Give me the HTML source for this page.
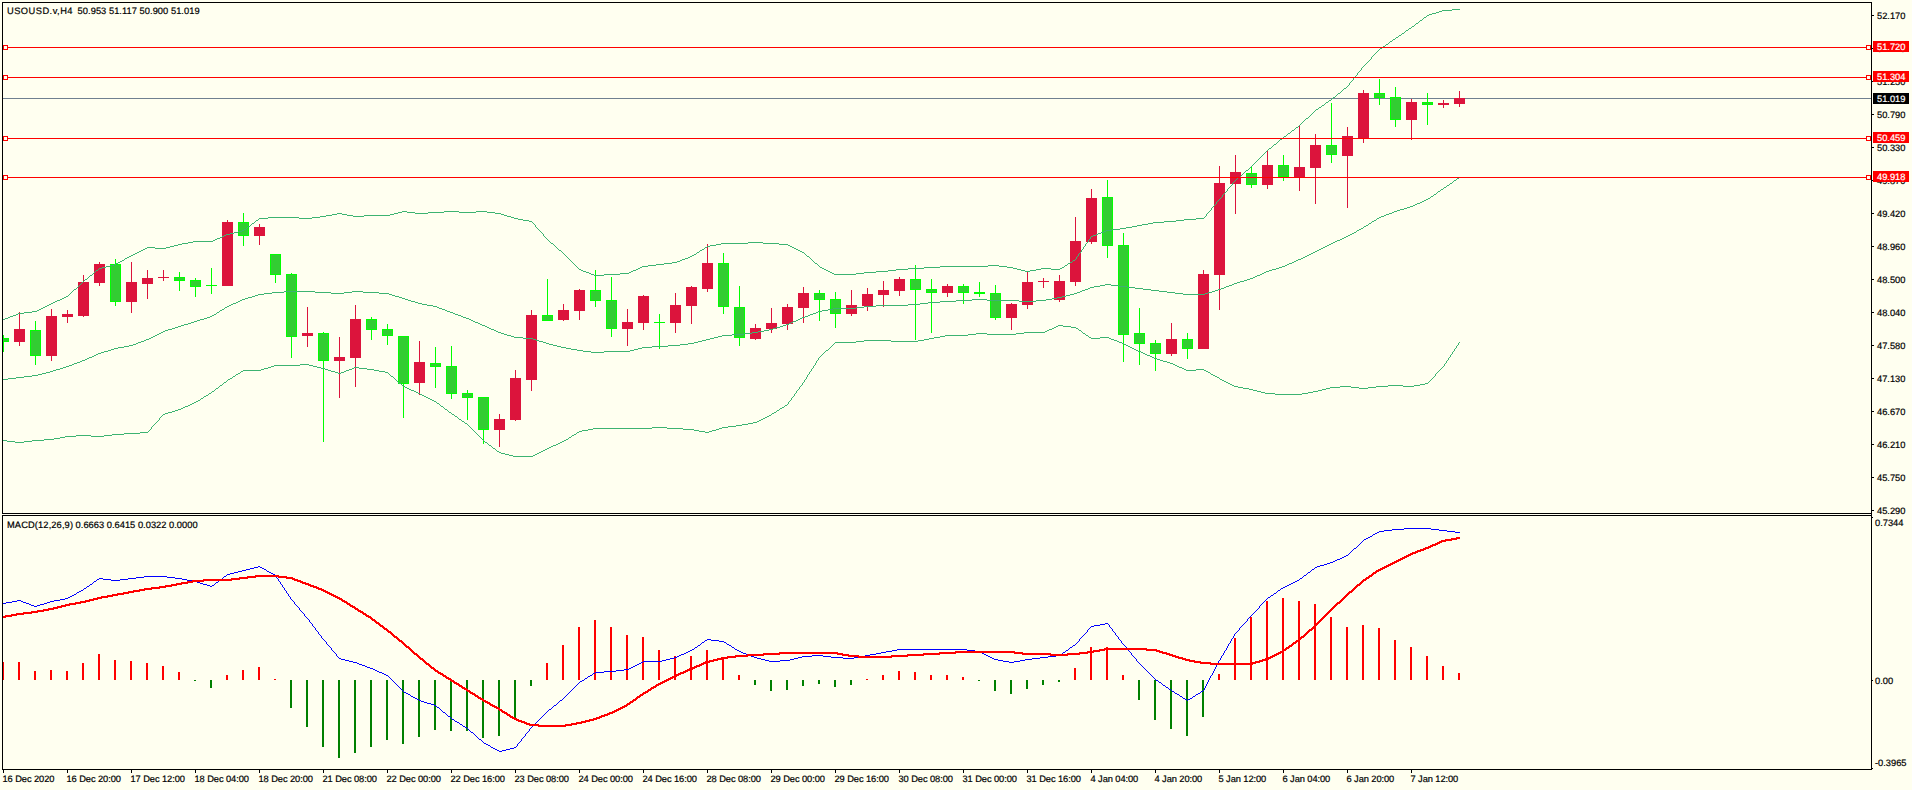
<!DOCTYPE html>
<html><head><meta charset="utf-8"><title>USOUSD.v,H4</title>
<style>html,body{margin:0;padding:0;background:#FFFFF0;overflow:hidden}svg{display:block}text{font-family:"Liberation Sans",sans-serif}</style>
</head><body>
<svg width="1912" height="790" viewBox="0 0 1912 790" shape-rendering="crispEdges">
<defs><clipPath id="cm"><rect x="3" y="3" width="1868" height="510"/></clipPath><clipPath id="cd"><rect x="3" y="516" width="1868" height="253"/></clipPath></defs>
<rect x="0" y="0" width="1912" height="790" fill="#FFFFF0"/>
<rect x="3" y="98" width="1868" height="1" fill="#708090"/>
<g clip-path="url(#cm)">
<rect x="3" y="335" width="1" height="17" fill="#00FF00"/>
<rect x="-2" y="338" width="11" height="4" fill="#00FF00"/>
<rect x="-1" y="339" width="9" height="2" fill="#32CD32"/>
<rect x="19" y="312" width="1" height="34" fill="#DC143C"/>
<rect x="14" y="329" width="11" height="13" fill="#DC143C"/>
<rect x="35" y="321" width="1" height="44" fill="#00FF00"/>
<rect x="30" y="330" width="11" height="26" fill="#00FF00"/>
<rect x="31" y="331" width="9" height="24" fill="#32CD32"/>
<rect x="51" y="309" width="1" height="52" fill="#DC143C"/>
<rect x="46" y="316" width="11" height="40" fill="#DC143C"/>
<rect x="67" y="310" width="1" height="13" fill="#DC143C"/>
<rect x="62" y="314" width="11" height="3" fill="#DC143C"/>
<rect x="83" y="275" width="1" height="42" fill="#DC143C"/>
<rect x="78" y="282" width="11" height="34" fill="#DC143C"/>
<rect x="99" y="262" width="1" height="24" fill="#DC143C"/>
<rect x="94" y="264" width="11" height="19" fill="#DC143C"/>
<rect x="115" y="259" width="1" height="47" fill="#00FF00"/>
<rect x="110" y="264" width="11" height="38" fill="#00FF00"/>
<rect x="111" y="265" width="9" height="36" fill="#32CD32"/>
<rect x="131" y="262" width="1" height="51" fill="#DC143C"/>
<rect x="126" y="282" width="11" height="20" fill="#DC143C"/>
<rect x="147" y="270" width="1" height="29" fill="#DC143C"/>
<rect x="142" y="278" width="11" height="6" fill="#DC143C"/>
<rect x="163" y="270" width="1" height="11" fill="#DC143C"/>
<rect x="158" y="277" width="11" height="1" fill="#DC143C"/>
<rect x="179" y="272" width="1" height="19" fill="#00FF00"/>
<rect x="174" y="277" width="11" height="4" fill="#00FF00"/>
<rect x="175" y="278" width="9" height="2" fill="#32CD32"/>
<rect x="195" y="278" width="1" height="19" fill="#00FF00"/>
<rect x="190" y="280" width="11" height="7" fill="#00FF00"/>
<rect x="191" y="281" width="9" height="5" fill="#32CD32"/>
<rect x="211" y="268" width="1" height="26" fill="#00FF00"/>
<rect x="206" y="285" width="11" height="1" fill="#00FF00"/>
<rect x="227" y="220" width="1" height="66" fill="#DC143C"/>
<rect x="222" y="222" width="11" height="64" fill="#DC143C"/>
<rect x="243" y="213" width="1" height="33" fill="#00FF00"/>
<rect x="238" y="222" width="11" height="14" fill="#00FF00"/>
<rect x="239" y="223" width="9" height="12" fill="#32CD32"/>
<rect x="259" y="224" width="1" height="21" fill="#DC143C"/>
<rect x="254" y="227" width="11" height="9" fill="#DC143C"/>
<rect x="275" y="254" width="1" height="29" fill="#00FF00"/>
<rect x="270" y="254" width="11" height="21" fill="#00FF00"/>
<rect x="271" y="255" width="9" height="19" fill="#32CD32"/>
<rect x="291" y="273" width="1" height="85" fill="#00FF00"/>
<rect x="286" y="274" width="11" height="63" fill="#00FF00"/>
<rect x="287" y="275" width="9" height="61" fill="#32CD32"/>
<rect x="307" y="307" width="1" height="40" fill="#DC143C"/>
<rect x="302" y="333" width="11" height="3" fill="#DC143C"/>
<rect x="323" y="332" width="1" height="110" fill="#00FF00"/>
<rect x="318" y="333" width="11" height="28" fill="#00FF00"/>
<rect x="319" y="334" width="9" height="26" fill="#32CD32"/>
<rect x="339" y="337" width="1" height="61" fill="#DC143C"/>
<rect x="334" y="357" width="11" height="4" fill="#DC143C"/>
<rect x="355" y="305" width="1" height="82" fill="#DC143C"/>
<rect x="350" y="319" width="11" height="39" fill="#DC143C"/>
<rect x="371" y="317" width="1" height="23" fill="#00FF00"/>
<rect x="366" y="319" width="11" height="11" fill="#00FF00"/>
<rect x="367" y="320" width="9" height="9" fill="#32CD32"/>
<rect x="387" y="324" width="1" height="21" fill="#00FF00"/>
<rect x="382" y="329" width="11" height="7" fill="#00FF00"/>
<rect x="383" y="330" width="9" height="5" fill="#32CD32"/>
<rect x="403" y="336" width="1" height="82" fill="#00FF00"/>
<rect x="398" y="336" width="11" height="48" fill="#00FF00"/>
<rect x="399" y="337" width="9" height="46" fill="#32CD32"/>
<rect x="419" y="341" width="1" height="54" fill="#DC143C"/>
<rect x="414" y="362" width="11" height="21" fill="#DC143C"/>
<rect x="435" y="347" width="1" height="41" fill="#00FF00"/>
<rect x="430" y="363" width="11" height="4" fill="#00FF00"/>
<rect x="431" y="364" width="9" height="2" fill="#32CD32"/>
<rect x="451" y="346" width="1" height="53" fill="#00FF00"/>
<rect x="446" y="366" width="11" height="28" fill="#00FF00"/>
<rect x="447" y="367" width="9" height="26" fill="#32CD32"/>
<rect x="467" y="390" width="1" height="30" fill="#00FF00"/>
<rect x="462" y="393" width="11" height="5" fill="#00FF00"/>
<rect x="463" y="394" width="9" height="3" fill="#32CD32"/>
<rect x="483" y="397" width="1" height="47" fill="#00FF00"/>
<rect x="478" y="397" width="11" height="33" fill="#00FF00"/>
<rect x="479" y="398" width="9" height="31" fill="#32CD32"/>
<rect x="499" y="414" width="1" height="33" fill="#DC143C"/>
<rect x="494" y="419" width="11" height="11" fill="#DC143C"/>
<rect x="515" y="370" width="1" height="51" fill="#DC143C"/>
<rect x="510" y="378" width="11" height="42" fill="#DC143C"/>
<rect x="531" y="310" width="1" height="81" fill="#DC143C"/>
<rect x="526" y="315" width="11" height="65" fill="#DC143C"/>
<rect x="547" y="279" width="1" height="42" fill="#00FF00"/>
<rect x="542" y="315" width="11" height="6" fill="#00FF00"/>
<rect x="543" y="316" width="9" height="4" fill="#32CD32"/>
<rect x="563" y="304" width="1" height="17" fill="#DC143C"/>
<rect x="558" y="310" width="11" height="10" fill="#DC143C"/>
<rect x="579" y="289" width="1" height="31" fill="#DC143C"/>
<rect x="574" y="290" width="11" height="21" fill="#DC143C"/>
<rect x="595" y="270" width="1" height="37" fill="#00FF00"/>
<rect x="590" y="290" width="11" height="11" fill="#00FF00"/>
<rect x="591" y="291" width="9" height="9" fill="#32CD32"/>
<rect x="611" y="277" width="1" height="60" fill="#00FF00"/>
<rect x="606" y="300" width="11" height="29" fill="#00FF00"/>
<rect x="607" y="301" width="9" height="27" fill="#32CD32"/>
<rect x="627" y="309" width="1" height="37" fill="#DC143C"/>
<rect x="622" y="322" width="11" height="7" fill="#DC143C"/>
<rect x="643" y="295" width="1" height="35" fill="#DC143C"/>
<rect x="638" y="296" width="11" height="27" fill="#DC143C"/>
<rect x="659" y="314" width="1" height="35" fill="#00FF00"/>
<rect x="654" y="322" width="11" height="1" fill="#00FF00"/>
<rect x="675" y="293" width="1" height="40" fill="#DC143C"/>
<rect x="670" y="305" width="11" height="18" fill="#DC143C"/>
<rect x="691" y="286" width="1" height="38" fill="#DC143C"/>
<rect x="686" y="287" width="11" height="19" fill="#DC143C"/>
<rect x="707" y="244" width="1" height="48" fill="#DC143C"/>
<rect x="702" y="263" width="11" height="26" fill="#DC143C"/>
<rect x="723" y="253" width="1" height="61" fill="#00FF00"/>
<rect x="718" y="263" width="11" height="44" fill="#00FF00"/>
<rect x="719" y="264" width="9" height="42" fill="#32CD32"/>
<rect x="739" y="286" width="1" height="60" fill="#00FF00"/>
<rect x="734" y="307" width="11" height="31" fill="#00FF00"/>
<rect x="735" y="308" width="9" height="29" fill="#32CD32"/>
<rect x="755" y="324" width="1" height="16" fill="#DC143C"/>
<rect x="750" y="328" width="11" height="11" fill="#DC143C"/>
<rect x="771" y="308" width="1" height="25" fill="#DC143C"/>
<rect x="766" y="323" width="11" height="6" fill="#DC143C"/>
<rect x="787" y="304" width="1" height="26" fill="#DC143C"/>
<rect x="782" y="307" width="11" height="17" fill="#DC143C"/>
<rect x="803" y="287" width="1" height="36" fill="#DC143C"/>
<rect x="798" y="293" width="11" height="15" fill="#DC143C"/>
<rect x="819" y="290" width="1" height="31" fill="#00FF00"/>
<rect x="814" y="293" width="11" height="7" fill="#00FF00"/>
<rect x="815" y="294" width="9" height="5" fill="#32CD32"/>
<rect x="835" y="292" width="1" height="36" fill="#00FF00"/>
<rect x="830" y="299" width="11" height="15" fill="#00FF00"/>
<rect x="831" y="300" width="9" height="13" fill="#32CD32"/>
<rect x="851" y="290" width="1" height="26" fill="#DC143C"/>
<rect x="846" y="305" width="11" height="9" fill="#DC143C"/>
<rect x="867" y="288" width="1" height="23" fill="#DC143C"/>
<rect x="862" y="294" width="11" height="12" fill="#DC143C"/>
<rect x="883" y="281" width="1" height="26" fill="#DC143C"/>
<rect x="878" y="290" width="11" height="5" fill="#DC143C"/>
<rect x="899" y="277" width="1" height="19" fill="#DC143C"/>
<rect x="894" y="279" width="11" height="12" fill="#DC143C"/>
<rect x="915" y="265" width="1" height="75" fill="#00FF00"/>
<rect x="910" y="279" width="11" height="11" fill="#00FF00"/>
<rect x="911" y="280" width="9" height="9" fill="#32CD32"/>
<rect x="931" y="279" width="1" height="54" fill="#00FF00"/>
<rect x="926" y="289" width="11" height="4" fill="#00FF00"/>
<rect x="927" y="290" width="9" height="2" fill="#32CD32"/>
<rect x="947" y="284" width="1" height="13" fill="#DC143C"/>
<rect x="942" y="286" width="11" height="7" fill="#DC143C"/>
<rect x="963" y="284" width="1" height="20" fill="#00FF00"/>
<rect x="958" y="286" width="11" height="7" fill="#00FF00"/>
<rect x="959" y="287" width="9" height="5" fill="#32CD32"/>
<rect x="979" y="282" width="1" height="15" fill="#00FF00"/>
<rect x="974" y="292" width="11" height="2" fill="#00FF00"/>
<rect x="995" y="285" width="1" height="35" fill="#00FF00"/>
<rect x="990" y="293" width="11" height="25" fill="#00FF00"/>
<rect x="991" y="294" width="9" height="23" fill="#32CD32"/>
<rect x="1011" y="303" width="1" height="27" fill="#DC143C"/>
<rect x="1006" y="304" width="11" height="14" fill="#DC143C"/>
<rect x="1027" y="271" width="1" height="38" fill="#DC143C"/>
<rect x="1022" y="282" width="11" height="23" fill="#DC143C"/>
<rect x="1043" y="278" width="1" height="10" fill="#DC143C"/>
<rect x="1038" y="281" width="11" height="1" fill="#DC143C"/>
<rect x="1059" y="275" width="1" height="27" fill="#DC143C"/>
<rect x="1054" y="281" width="11" height="19" fill="#DC143C"/>
<rect x="1075" y="217" width="1" height="69" fill="#DC143C"/>
<rect x="1070" y="241" width="11" height="41" fill="#DC143C"/>
<rect x="1091" y="189" width="1" height="55" fill="#DC143C"/>
<rect x="1086" y="198" width="11" height="44" fill="#DC143C"/>
<rect x="1107" y="180" width="1" height="78" fill="#00FF00"/>
<rect x="1102" y="197" width="11" height="49" fill="#00FF00"/>
<rect x="1103" y="198" width="9" height="47" fill="#32CD32"/>
<rect x="1123" y="233" width="1" height="129" fill="#00FF00"/>
<rect x="1118" y="245" width="11" height="90" fill="#00FF00"/>
<rect x="1119" y="246" width="9" height="88" fill="#32CD32"/>
<rect x="1139" y="308" width="1" height="57" fill="#00FF00"/>
<rect x="1134" y="333" width="11" height="11" fill="#00FF00"/>
<rect x="1135" y="334" width="9" height="9" fill="#32CD32"/>
<rect x="1155" y="340" width="1" height="31" fill="#00FF00"/>
<rect x="1150" y="343" width="11" height="11" fill="#00FF00"/>
<rect x="1151" y="344" width="9" height="9" fill="#32CD32"/>
<rect x="1171" y="323" width="1" height="33" fill="#DC143C"/>
<rect x="1166" y="339" width="11" height="15" fill="#DC143C"/>
<rect x="1187" y="333" width="1" height="26" fill="#00FF00"/>
<rect x="1182" y="339" width="11" height="10" fill="#00FF00"/>
<rect x="1183" y="340" width="9" height="8" fill="#32CD32"/>
<rect x="1203" y="270" width="1" height="79" fill="#DC143C"/>
<rect x="1198" y="274" width="11" height="75" fill="#DC143C"/>
<rect x="1219" y="166" width="1" height="144" fill="#DC143C"/>
<rect x="1214" y="183" width="11" height="92" fill="#DC143C"/>
<rect x="1235" y="155" width="1" height="59" fill="#DC143C"/>
<rect x="1230" y="172" width="11" height="12" fill="#DC143C"/>
<rect x="1251" y="167" width="1" height="21" fill="#00FF00"/>
<rect x="1246" y="173" width="11" height="12" fill="#00FF00"/>
<rect x="1247" y="174" width="9" height="10" fill="#32CD32"/>
<rect x="1267" y="150" width="1" height="39" fill="#DC143C"/>
<rect x="1262" y="165" width="11" height="20" fill="#DC143C"/>
<rect x="1283" y="155" width="1" height="26" fill="#00FF00"/>
<rect x="1278" y="165" width="11" height="12" fill="#00FF00"/>
<rect x="1279" y="166" width="9" height="10" fill="#32CD32"/>
<rect x="1299" y="125" width="1" height="66" fill="#DC143C"/>
<rect x="1294" y="167" width="11" height="11" fill="#DC143C"/>
<rect x="1315" y="134" width="1" height="70" fill="#DC143C"/>
<rect x="1310" y="145" width="11" height="23" fill="#DC143C"/>
<rect x="1331" y="103" width="1" height="60" fill="#00FF00"/>
<rect x="1326" y="145" width="11" height="10" fill="#00FF00"/>
<rect x="1327" y="146" width="9" height="8" fill="#32CD32"/>
<rect x="1347" y="127" width="1" height="81" fill="#DC143C"/>
<rect x="1342" y="136" width="11" height="20" fill="#DC143C"/>
<rect x="1363" y="90" width="1" height="53" fill="#DC143C"/>
<rect x="1358" y="93" width="11" height="46" fill="#DC143C"/>
<rect x="1379" y="79" width="1" height="26" fill="#00FF00"/>
<rect x="1374" y="93" width="11" height="5" fill="#00FF00"/>
<rect x="1375" y="94" width="9" height="3" fill="#32CD32"/>
<rect x="1395" y="87" width="1" height="40" fill="#00FF00"/>
<rect x="1390" y="97" width="11" height="23" fill="#00FF00"/>
<rect x="1391" y="98" width="9" height="21" fill="#32CD32"/>
<rect x="1411" y="99" width="1" height="41" fill="#DC143C"/>
<rect x="1406" y="102" width="11" height="18" fill="#DC143C"/>
<rect x="1427" y="93" width="1" height="32" fill="#00FF00"/>
<rect x="1422" y="102" width="11" height="3" fill="#00FF00"/>
<rect x="1423" y="103" width="9" height="1" fill="#32CD32"/>
<rect x="1443" y="100" width="1" height="8" fill="#DC143C"/>
<rect x="1438" y="103" width="11" height="2" fill="#DC143C"/>
<rect x="1459" y="91" width="1" height="16" fill="#DC143C"/>
<rect x="1454" y="98" width="11" height="6" fill="#DC143C"/>
</g>
<path clip-path="url(#cm)" fill="#3CB371" d="M3 319h2v1h-2zM5 318h3v1h-3zM8 317h2v1h-2zM10 316h3v1h-3zM13 315h3v1h-3zM16 314h2v1h-2zM18 313h6v1h-6zM24 312h8v1h-8zM32 311h5v1h-5zM37 310h2v1h-2zM39 309h2v1h-2zM41 308h2v1h-2zM43 307h2v1h-2zM45 306h2v1h-2zM47 305h2v1h-2zM49 304h2v1h-2zM51 303h2v1h-2zM53 302h2v1h-2zM55 301h2v1h-2zM57 300h3v1h-3zM60 299h2v1h-2zM62 298h2v1h-2zM64 297h2v1h-2zM66 296h2v1h-2zM74 289h2v1h-2zM85 279h2v1h-2zM90 275h2v1h-2zM96 270h2v1h-2zM99 268h3v1h-3zM102 267h4v1h-4zM106 266h4v1h-4zM110 265h4v1h-4zM114 264h2v1h-2zM116 263h2v1h-2zM118 262h2v1h-2zM120 261h2v1h-2zM122 260h2v1h-2zM125 258h2v1h-2zM127 257h2v1h-2zM129 256h2v1h-2zM131 255h2v1h-2zM133 254h2v1h-2zM135 253h2v1h-2zM137 252h2v1h-2zM139 251h2v1h-2zM141 250h2v1h-2zM143 249h2v1h-2zM145 248h2v1h-2zM147 247h8v1h-8zM155 248h11v1h-11zM166 247h4v1h-4zM170 246h4v1h-4zM174 245h4v1h-4zM178 244h4v1h-4zM182 243h6v1h-6zM188 242h5v1h-5zM193 241h20v1h-20zM213 240h2v1h-2zM215 239h2v1h-2zM217 238h3v1h-3zM220 237h2v1h-2zM222 236h2v1h-2zM224 235h2v1h-2zM226 234h4v1h-4zM230 233h4v1h-4zM234 232h4v1h-4zM238 231h4v1h-4zM242 230h2v1h-2zM244 229h2v1h-2zM248 226h2v1h-2zM252 223h2v1h-2zM256 220h2v1h-2zM259 218h9v1h-9zM268 217h31v1h-31zM299 218h13v1h-13zM312 217h8v1h-8zM320 216h6v1h-6zM326 215h6v1h-6zM332 214h5v1h-5zM337 213h5v1h-5zM342 214h5v1h-5zM347 215h6v1h-6zM353 216h11v1h-11zM364 215h26v1h-26zM390 214h4v1h-4zM394 213h4v1h-4zM398 212h4v1h-4zM402 211h5v1h-5zM407 212h8v1h-8zM415 213h13v1h-13zM428 212h16v1h-16zM444 211h15v1h-15zM459 212h17v1h-17zM476 211h11v1h-11zM487 212h8v1h-8zM495 213h6v1h-6zM501 214h3v1h-3zM504 215h3v1h-3zM507 216h4v1h-4zM511 217h3v1h-3zM514 218h4v1h-4zM518 219h5v1h-5zM523 220h6v1h-6zM529 221h3v1h-3zM551 243h2v1h-2zM559 250h2v1h-2zM579 269h2v1h-2zM581 270h2v1h-2zM583 271h3v1h-3zM586 272h3v1h-3zM589 273h2v1h-2zM591 274h3v1h-3zM594 275h10v1h-10zM604 274h16v1h-16zM620 273h9v1h-9zM629 272h2v1h-2zM631 271h2v1h-2zM633 270h3v1h-3zM636 269h2v1h-2zM638 268h2v1h-2zM640 267h2v1h-2zM642 266h6v1h-6zM648 265h8v1h-8zM656 264h8v1h-8zM664 263h8v1h-8zM672 262h5v1h-5zM677 261h3v1h-3zM680 260h2v1h-2zM682 259h3v1h-3zM685 258h3v1h-3zM688 257h2v1h-2zM690 256h2v1h-2zM692 255h2v1h-2zM694 254h2v1h-2zM697 252h2v1h-2zM700 250h2v1h-2zM702 249h2v1h-2zM705 247h2v1h-2zM707 246h3v1h-3zM710 245h6v1h-6zM716 244h5v1h-5zM721 243h27v1h-27zM748 242h15v1h-15zM763 243h16v1h-16zM779 244h9v1h-9zM788 245h2v1h-2zM790 246h2v1h-2zM792 247h2v1h-2zM794 248h2v1h-2zM796 249h2v1h-2zM798 250h2v1h-2zM800 251h2v1h-2zM802 252h2v1h-2zM807 256h2v1h-2zM815 263h2v1h-2zM820 267h2v1h-2zM822 268h2v1h-2zM824 269h2v1h-2zM826 270h2v1h-2zM828 271h2v1h-2zM830 272h2v1h-2zM832 273h2v1h-2zM834 274h22v1h-22zM856 273h8v1h-8zM864 272h12v1h-12zM876 271h12v1h-12zM888 270h8v1h-8zM896 269h12v1h-12zM908 268h16v1h-16zM924 267h16v1h-16zM940 266h48v1h-48zM988 265h11v1h-11zM999 266h8v1h-8zM1007 267h6v1h-6zM1013 268h4v1h-4zM1017 269h4v1h-4zM1021 270h4v1h-4zM1025 271h5v1h-5zM1030 270h6v1h-6zM1036 269h5v1h-5zM1041 268h10v1h-10zM1051 269h9v1h-9zM1060 268h2v1h-2zM1062 267h2v1h-2zM1065 265h2v1h-2zM1068 263h2v1h-2zM1070 262h2v1h-2zM1073 260h2v1h-2zM1091 236h2v1h-2zM1093 235h3v1h-3zM1096 234h2v1h-2zM1098 233h3v1h-3zM1101 232h3v1h-3zM1104 231h2v1h-2zM1106 230h6v1h-6zM1112 229h8v1h-8zM1120 228h6v1h-6zM1126 227h6v1h-6zM1132 226h5v1h-5zM1137 225h5v1h-5zM1142 224h6v1h-6zM1148 223h5v1h-5zM1153 222h11v1h-11zM1164 221h12v1h-12zM1176 220h8v1h-8zM1184 219h12v1h-12zM1196 218h8v1h-8zM1238 177h2v1h-2zM1246 170h2v1h-2zM1269 148h2v1h-2zM1274 144h2v1h-2zM1280 139h2v1h-2zM1284 136h2v1h-2zM1288 133h2v1h-2zM1292 130h2v1h-2zM1296 127h2v1h-2zM1306 118h2v1h-2zM1316 109h2v1h-2zM1319 107h2v1h-2zM1322 105h2v1h-2zM1326 102h2v1h-2zM1329 100h2v1h-2zM1333 97h2v1h-2zM1338 93h2v1h-2zM1344 88h2v1h-2zM1380 48h2v1h-2zM1383 46h2v1h-2zM1386 44h2v1h-2zM1390 41h2v1h-2zM1393 39h2v1h-2zM1396 37h2v1h-2zM1399 35h2v1h-2zM1402 33h2v1h-2zM1406 30h2v1h-2zM1409 28h2v1h-2zM1412 26h2v1h-2zM1416 23h2v1h-2zM1420 20h2v1h-2zM1424 17h2v1h-2zM1427 15h2v1h-2zM1429 14h3v1h-3zM1432 13h4v1h-4zM1436 12h3v1h-3zM1439 11h3v1h-3zM1442 10h10v1h-10zM1452 9h8v1h-8zM68 295h1v1h-1zM69 294h1v1h-1zM70 293h1v1h-1zM71 292h1v1h-1zM72 291h1v1h-1zM73 290h1v1h-1zM76 288h1v1h-1zM77 287h1v1h-1zM78 286h1v1h-1zM79 285h1v1h-1zM80 284h1v1h-1zM81 283h1v1h-1zM82 282h1v1h-1zM83 281h1v1h-1zM84 280h1v1h-1zM87 278h1v1h-1zM88 277h1v1h-1zM89 276h1v1h-1zM92 274h1v1h-1zM93 273h1v1h-1zM94 272h1v1h-1zM95 271h1v1h-1zM98 269h1v1h-1zM124 259h1v1h-1zM246 228h1v1h-1zM247 227h1v1h-1zM250 225h1v1h-1zM251 224h1v1h-1zM254 222h1v1h-1zM255 221h1v1h-1zM258 219h1v1h-1zM532 222h1v1h-1zM533 223h1v1h-1zM534 224h1v1h-1zM535 225h1v2h-1zM536 227h1v1h-1zM537 228h1v1h-1zM538 229h1v1h-1zM539 230h1v1h-1zM540 231h1v1h-1zM541 232h1v1h-1zM542 233h1v1h-1zM543 234h1v2h-1zM544 236h1v1h-1zM545 237h1v1h-1zM546 238h1v1h-1zM547 239h1v1h-1zM548 240h1v1h-1zM549 241h1v1h-1zM550 242h1v1h-1zM553 244h1v1h-1zM554 245h1v1h-1zM555 246h1v1h-1zM556 247h1v1h-1zM557 248h1v1h-1zM558 249h1v1h-1zM561 251h1v1h-1zM562 252h1v1h-1zM563 253h1v1h-1zM564 254h1v1h-1zM565 255h1v1h-1zM566 256h1v1h-1zM567 257h1v1h-1zM568 258h1v1h-1zM569 259h1v1h-1zM570 260h1v1h-1zM571 261h1v1h-1zM572 262h1v1h-1zM573 263h1v1h-1zM574 264h1v1h-1zM575 265h1v1h-1zM576 266h1v1h-1zM577 267h1v1h-1zM578 268h1v1h-1zM696 253h1v1h-1zM699 251h1v1h-1zM704 248h1v1h-1zM804 253h1v1h-1zM805 254h1v1h-1zM806 255h1v1h-1zM809 257h1v1h-1zM810 258h1v1h-1zM811 259h1v1h-1zM812 260h1v1h-1zM813 261h1v1h-1zM814 262h1v1h-1zM817 264h1v1h-1zM818 265h1v1h-1zM819 266h1v1h-1zM1064 266h1v1h-1zM1067 264h1v1h-1zM1072 261h1v1h-1zM1075 259h1v1h-1zM1076 257h1v2h-1zM1077 256h1v1h-1zM1078 254h1v2h-1zM1079 253h1v1h-1zM1080 252h1v1h-1zM1081 250h1v2h-1zM1082 249h1v1h-1zM1083 247h1v2h-1zM1084 246h1v1h-1zM1085 244h1v2h-1zM1086 243h1v1h-1zM1087 242h1v1h-1zM1088 240h1v2h-1zM1089 239h1v1h-1zM1090 237h1v2h-1zM1204 217h1v1h-1zM1205 216h1v1h-1zM1206 214h1v2h-1zM1207 213h1v1h-1zM1208 212h1v1h-1zM1209 211h1v1h-1zM1210 210h1v1h-1zM1211 208h1v2h-1zM1212 207h1v1h-1zM1213 206h1v1h-1zM1214 205h1v1h-1zM1215 204h1v1h-1zM1216 202h1v2h-1zM1217 201h1v1h-1zM1218 200h1v1h-1zM1219 199h1v1h-1zM1220 198h1v1h-1zM1221 197h1v1h-1zM1222 195h1v2h-1zM1223 194h1v1h-1zM1224 193h1v1h-1zM1225 192h1v1h-1zM1226 191h1v1h-1zM1227 189h1v2h-1zM1228 188h1v1h-1zM1229 187h1v1h-1zM1230 186h1v1h-1zM1231 185h1v1h-1zM1232 183h1v2h-1zM1233 182h1v1h-1zM1234 181h1v1h-1zM1235 180h1v1h-1zM1236 179h1v1h-1zM1237 178h1v1h-1zM1240 176h1v1h-1zM1241 175h1v1h-1zM1242 174h1v1h-1zM1243 173h1v1h-1zM1244 172h1v1h-1zM1245 171h1v1h-1zM1248 169h1v1h-1zM1249 168h1v1h-1zM1250 167h1v1h-1zM1251 166h1v1h-1zM1252 165h1v1h-1zM1253 164h1v1h-1zM1254 163h1v1h-1zM1255 162h1v1h-1zM1256 161h1v1h-1zM1257 160h1v1h-1zM1258 159h1v1h-1zM1259 158h1v1h-1zM1260 157h1v1h-1zM1261 156h1v1h-1zM1262 155h1v1h-1zM1263 154h1v1h-1zM1264 153h1v1h-1zM1265 152h1v1h-1zM1266 151h1v1h-1zM1267 150h1v1h-1zM1268 149h1v1h-1zM1271 147h1v1h-1zM1272 146h1v1h-1zM1273 145h1v1h-1zM1276 143h1v1h-1zM1277 142h1v1h-1zM1278 141h1v1h-1zM1279 140h1v1h-1zM1282 138h1v1h-1zM1283 137h1v1h-1zM1286 135h1v1h-1zM1287 134h1v1h-1zM1290 132h1v1h-1zM1291 131h1v1h-1zM1294 129h1v1h-1zM1295 128h1v1h-1zM1298 126h1v1h-1zM1299 125h1v1h-1zM1300 124h1v1h-1zM1301 123h1v1h-1zM1302 122h1v1h-1zM1303 121h1v1h-1zM1304 120h1v1h-1zM1305 119h1v1h-1zM1308 117h1v1h-1zM1309 116h1v1h-1zM1310 115h1v1h-1zM1311 114h1v1h-1zM1312 113h1v1h-1zM1313 112h1v1h-1zM1314 111h1v1h-1zM1315 110h1v1h-1zM1318 108h1v1h-1zM1321 106h1v1h-1zM1324 104h1v1h-1zM1325 103h1v1h-1zM1328 101h1v1h-1zM1331 99h1v1h-1zM1332 98h1v1h-1zM1335 96h1v1h-1zM1336 95h1v1h-1zM1337 94h1v1h-1zM1340 92h1v1h-1zM1341 91h1v1h-1zM1342 90h1v1h-1zM1343 89h1v1h-1zM1346 87h1v1h-1zM1347 86h1v1h-1zM1348 85h1v1h-1zM1349 83h1v2h-1zM1350 82h1v1h-1zM1351 81h1v1h-1zM1352 80h1v1h-1zM1353 78h1v2h-1zM1354 77h1v1h-1zM1355 76h1v1h-1zM1356 75h1v1h-1zM1357 73h1v2h-1zM1358 72h1v1h-1zM1359 71h1v1h-1zM1360 70h1v1h-1zM1361 68h1v2h-1zM1362 67h1v1h-1zM1363 66h1v1h-1zM1364 65h1v1h-1zM1365 64h1v1h-1zM1366 63h1v1h-1zM1367 62h1v1h-1zM1368 61h1v1h-1zM1369 60h1v1h-1zM1370 59h1v1h-1zM1371 57h1v2h-1zM1372 56h1v1h-1zM1373 55h1v1h-1zM1374 54h1v1h-1zM1375 53h1v1h-1zM1376 52h1v1h-1zM1377 51h1v1h-1zM1378 50h1v1h-1zM1379 49h1v1h-1zM1382 47h1v1h-1zM1385 45h1v1h-1zM1388 43h1v1h-1zM1389 42h1v1h-1zM1392 40h1v1h-1zM1395 38h1v1h-1zM1398 36h1v1h-1zM1401 34h1v1h-1zM1404 32h1v1h-1zM1405 31h1v1h-1zM1408 29h1v1h-1zM1411 27h1v1h-1zM1414 25h1v1h-1zM1415 24h1v1h-1zM1418 22h1v1h-1zM1419 21h1v1h-1zM1422 19h1v1h-1zM1423 18h1v1h-1zM1426 16h1v1h-1z"/>
<path clip-path="url(#cm)" fill="#3CB371" d="M3 379h5v1h-5zM8 378h8v1h-8zM16 377h8v1h-8zM24 376h8v1h-8zM32 375h6v1h-6zM38 374h4v1h-4zM42 373h4v1h-4zM46 372h4v1h-4zM50 371h3v1h-3zM53 370h3v1h-3zM56 369h4v1h-4zM60 368h3v1h-3zM63 367h3v1h-3zM66 366h3v1h-3zM69 365h3v1h-3zM72 364h2v1h-2zM74 363h3v1h-3zM77 362h3v1h-3zM80 361h2v1h-2zM82 360h3v1h-3zM85 359h2v1h-2zM87 358h2v1h-2zM89 357h3v1h-3zM92 356h2v1h-2zM94 355h2v1h-2zM96 354h2v1h-2zM98 353h3v1h-3zM101 352h3v1h-3zM104 351h4v1h-4zM108 350h3v1h-3zM111 349h3v1h-3zM114 348h4v1h-4zM118 347h6v1h-6zM124 346h5v1h-5zM129 345h4v1h-4zM133 344h3v1h-3zM136 343h2v1h-2zM138 342h3v1h-3zM141 341h3v1h-3zM144 340h2v1h-2zM146 339h3v1h-3zM149 338h2v1h-2zM151 337h2v1h-2zM153 336h2v1h-2zM155 335h2v1h-2zM157 334h2v1h-2zM159 333h2v1h-2zM161 332h2v1h-2zM163 331h2v1h-2zM165 330h3v1h-3zM168 329h4v1h-4zM172 328h3v1h-3zM175 327h3v1h-3zM178 326h3v1h-3zM181 325h3v1h-3zM184 324h4v1h-4zM188 323h3v1h-3zM191 322h3v1h-3zM194 321h3v1h-3zM197 320h3v1h-3zM200 319h4v1h-4zM204 318h3v1h-3zM207 317h3v1h-3zM210 316h2v1h-2zM212 315h2v1h-2zM214 314h2v1h-2zM217 312h2v1h-2zM220 310h2v1h-2zM222 309h2v1h-2zM225 307h2v1h-2zM227 306h2v1h-2zM229 305h2v1h-2zM231 304h2v1h-2zM233 303h3v1h-3zM236 302h2v1h-2zM238 301h2v1h-2zM240 300h2v1h-2zM242 299h3v1h-3zM245 298h3v1h-3zM248 297h4v1h-4zM252 296h3v1h-3zM255 295h3v1h-3zM258 294h6v1h-6zM264 293h8v1h-8zM272 292h12v1h-12zM284 291h31v1h-31zM315 292h16v1h-16zM331 293h13v1h-13zM344 292h8v1h-8zM352 291h11v1h-11zM363 292h16v1h-16zM379 293h10v1h-10zM389 294h3v1h-3zM392 295h3v1h-3zM395 296h4v1h-4zM399 297h3v1h-3zM402 298h3v1h-3zM405 299h3v1h-3zM408 300h3v1h-3zM411 301h4v1h-4zM415 302h3v1h-3zM418 303h4v1h-4zM422 304h5v1h-5zM427 305h6v1h-6zM433 306h4v1h-4zM437 307h2v1h-2zM439 308h3v1h-3zM442 309h3v1h-3zM445 310h2v1h-2zM447 311h3v1h-3zM450 312h3v1h-3zM453 313h2v1h-2zM455 314h3v1h-3zM458 315h3v1h-3zM461 316h2v1h-2zM463 317h3v1h-3zM466 318h3v1h-3zM469 319h2v1h-2zM471 320h2v1h-2zM473 321h2v1h-2zM475 322h3v1h-3zM478 323h2v1h-2zM480 324h2v1h-2zM482 325h3v1h-3zM485 326h2v1h-2zM487 327h2v1h-2zM489 328h2v1h-2zM491 329h3v1h-3zM494 330h2v1h-2zM496 331h2v1h-2zM498 332h3v1h-3zM501 333h3v1h-3zM504 334h3v1h-3zM507 335h4v1h-4zM511 336h3v1h-3zM514 337h9v1h-9zM523 338h10v1h-10zM533 339h3v1h-3zM536 340h3v1h-3zM539 341h4v1h-4zM543 342h3v1h-3zM546 343h3v1h-3zM549 344h4v1h-4zM553 345h4v1h-4zM557 346h4v1h-4zM561 347h5v1h-5zM566 348h5v1h-5zM571 349h6v1h-6zM577 350h6v1h-6zM583 351h8v1h-8zM591 352h13v1h-13zM604 351h26v1h-26zM630 350h4v1h-4zM634 349h4v1h-4zM638 348h4v1h-4zM642 347h10v1h-10zM652 346h16v1h-16zM668 345h12v1h-12zM680 344h8v1h-8zM688 343h6v1h-6zM694 342h4v1h-4zM698 341h4v1h-4zM702 340h4v1h-4zM706 339h4v1h-4zM710 338h4v1h-4zM714 337h4v1h-4zM718 336h4v1h-4zM722 335h10v1h-10zM732 334h12v1h-12zM744 333h8v1h-8zM752 332h6v1h-6zM758 331h6v1h-6zM764 330h5v1h-5zM769 329h4v1h-4zM773 328h3v1h-3zM776 327h4v1h-4zM780 326h3v1h-3zM783 325h3v1h-3zM786 324h3v1h-3zM789 323h2v1h-2zM791 322h2v1h-2zM793 321h3v1h-3zM796 320h2v1h-2zM798 319h2v1h-2zM800 318h2v1h-2zM802 317h3v1h-3zM805 316h3v1h-3zM808 315h2v1h-2zM810 314h3v1h-3zM813 313h3v1h-3zM816 312h2v1h-2zM818 311h4v1h-4zM822 310h6v1h-6zM828 309h5v1h-5zM833 308h23v1h-23zM856 307h8v1h-8zM864 306h12v1h-12zM876 305h32v1h-32zM908 304h12v1h-12zM920 303h8v1h-8zM928 302h12v1h-12zM940 301h16v1h-16zM956 300h16v1h-16zM972 299h15v1h-15zM987 300h32v1h-32zM1019 301h17v1h-17zM1036 300h10v1h-10zM1046 299h6v1h-6zM1052 298h5v1h-5zM1057 297h5v1h-5zM1062 296h4v1h-4zM1066 295h4v1h-4zM1070 294h4v1h-4zM1074 293h3v1h-3zM1077 292h3v1h-3zM1080 291h2v1h-2zM1082 290h3v1h-3zM1085 289h3v1h-3zM1088 288h2v1h-2zM1090 287h4v1h-4zM1094 286h6v1h-6zM1100 285h5v1h-5zM1105 284h6v1h-6zM1111 285h8v1h-8zM1119 286h8v1h-8zM1127 287h8v1h-8zM1135 288h8v1h-8zM1143 289h8v1h-8zM1151 290h8v1h-8zM1159 291h8v1h-8zM1167 292h8v1h-8zM1175 293h8v1h-8zM1183 294h22v1h-22zM1205 293h3v1h-3zM1208 292h4v1h-4zM1212 291h3v1h-3zM1215 290h3v1h-3zM1218 289h3v1h-3zM1221 288h3v1h-3zM1224 287h2v1h-2zM1226 286h3v1h-3zM1229 285h3v1h-3zM1232 284h2v1h-2zM1234 283h3v1h-3zM1237 282h3v1h-3zM1240 281h4v1h-4zM1244 280h3v1h-3zM1247 279h3v1h-3zM1250 278h3v1h-3zM1253 277h2v1h-2zM1255 276h2v1h-2zM1257 275h3v1h-3zM1260 274h2v1h-2zM1262 273h2v1h-2zM1264 272h2v1h-2zM1266 271h3v1h-3zM1269 270h3v1h-3zM1272 269h4v1h-4zM1276 268h3v1h-3zM1279 267h3v1h-3zM1282 266h3v1h-3zM1285 265h2v1h-2zM1287 264h2v1h-2zM1289 263h3v1h-3zM1292 262h2v1h-2zM1294 261h2v1h-2zM1296 260h2v1h-2zM1298 259h3v1h-3zM1301 258h2v1h-2zM1303 257h2v1h-2zM1305 256h2v1h-2zM1307 255h2v1h-2zM1309 254h2v1h-2zM1311 253h2v1h-2zM1313 252h2v1h-2zM1315 251h2v1h-2zM1317 250h2v1h-2zM1319 249h2v1h-2zM1321 248h2v1h-2zM1323 247h2v1h-2zM1325 246h2v1h-2zM1327 245h2v1h-2zM1329 244h2v1h-2zM1331 243h2v1h-2zM1333 242h2v1h-2zM1335 241h2v1h-2zM1337 240h3v1h-3zM1340 239h2v1h-2zM1342 238h2v1h-2zM1344 237h2v1h-2zM1346 236h2v1h-2zM1348 235h2v1h-2zM1350 234h2v1h-2zM1352 233h2v1h-2zM1354 232h2v1h-2zM1357 230h2v1h-2zM1359 229h2v1h-2zM1361 228h2v1h-2zM1364 226h2v1h-2zM1366 225h2v1h-2zM1369 223h2v1h-2zM1372 221h2v1h-2zM1374 220h2v1h-2zM1377 218h2v1h-2zM1379 217h2v1h-2zM1381 216h3v1h-3zM1384 215h2v1h-2zM1386 214h3v1h-3zM1389 213h3v1h-3zM1392 212h2v1h-2zM1394 211h3v1h-3zM1397 210h3v1h-3zM1400 209h4v1h-4zM1404 208h3v1h-3zM1407 207h3v1h-3zM1410 206h3v1h-3zM1413 205h2v1h-2zM1415 204h2v1h-2zM1417 203h3v1h-3zM1420 202h2v1h-2zM1422 201h2v1h-2zM1424 200h2v1h-2zM1426 199h2v1h-2zM1428 198h2v1h-2zM1431 196h2v1h-2zM1434 194h2v1h-2zM1438 191h2v1h-2zM1441 189h2v1h-2zM1444 187h2v1h-2zM1447 185h2v1h-2zM1450 183h2v1h-2zM1454 180h2v1h-2zM1457 178h2v1h-2zM216 313h1v1h-1zM219 311h1v1h-1zM224 308h1v1h-1zM1356 231h1v1h-1zM1363 227h1v1h-1zM1368 224h1v1h-1zM1371 222h1v1h-1zM1376 219h1v1h-1zM1430 197h1v1h-1zM1433 195h1v1h-1zM1436 193h1v1h-1zM1437 192h1v1h-1zM1440 190h1v1h-1zM1443 188h1v1h-1zM1446 186h1v1h-1zM1449 184h1v1h-1zM1452 182h1v1h-1zM1453 181h1v1h-1zM1456 179h1v1h-1zM1459 177h1v1h-1z"/>
<path clip-path="url(#cm)" fill="#3CB371" d="M3 440h4v1h-4zM7 441h8v1h-8zM15 442h9v1h-9zM24 441h8v1h-8zM32 440h12v1h-12zM44 439h10v1h-10zM54 438h6v1h-6zM60 437h5v1h-5zM65 436h11v1h-11zM76 435h15v1h-15zM91 436h13v1h-13zM104 435h8v1h-8zM112 434h12v1h-12zM124 433h16v1h-16zM140 432h8v1h-8zM163 414h2v1h-2zM165 413h3v1h-3zM168 412h4v1h-4zM172 411h3v1h-3zM175 410h3v1h-3zM178 409h3v1h-3zM181 408h2v1h-2zM183 407h2v1h-2zM185 406h3v1h-3zM188 405h2v1h-2zM190 404h2v1h-2zM192 403h2v1h-2zM194 402h2v1h-2zM196 401h2v1h-2zM198 400h2v1h-2zM201 398h2v1h-2zM204 396h2v1h-2zM206 395h2v1h-2zM209 393h2v1h-2zM212 391h2v1h-2zM216 388h2v1h-2zM220 385h2v1h-2zM224 382h2v1h-2zM228 379h2v1h-2zM230 378h2v1h-2zM233 376h2v1h-2zM236 374h2v1h-2zM238 373h2v1h-2zM241 371h2v1h-2zM243 370h18v1h-18zM261 369h3v1h-3zM264 368h4v1h-4zM268 367h3v1h-3zM271 366h3v1h-3zM274 365h26v1h-26zM300 364h9v1h-9zM309 365h4v1h-4zM313 366h4v1h-4zM317 367h4v1h-4zM321 368h4v1h-4zM325 369h3v1h-3zM328 370h3v1h-3zM331 371h4v1h-4zM335 372h3v1h-3zM338 373h3v1h-3zM341 372h3v1h-3zM344 371h2v1h-2zM346 370h3v1h-3zM349 369h3v1h-3zM352 368h2v1h-2zM354 367h5v1h-5zM359 368h8v1h-8zM367 369h7v1h-7zM374 370h5v1h-5zM379 371h6v1h-6zM385 372h3v1h-3zM391 376h2v1h-2zM399 383h2v1h-2zM403 386h2v1h-2zM405 387h2v1h-2zM407 388h2v1h-2zM409 389h2v1h-2zM411 390h3v1h-3zM414 391h2v1h-2zM416 392h2v1h-2zM418 393h2v1h-2zM420 394h2v1h-2zM422 395h2v1h-2zM424 396h2v1h-2zM426 397h2v1h-2zM428 398h2v1h-2zM430 399h2v1h-2zM432 400h2v1h-2zM434 401h2v1h-2zM437 403h2v1h-2zM441 406h2v1h-2zM445 409h2v1h-2zM449 412h2v1h-2zM452 414h2v1h-2zM455 416h2v1h-2zM459 419h2v1h-2zM462 421h2v1h-2zM465 423h2v1h-2zM485 442h2v1h-2zM489 445h2v1h-2zM493 448h2v1h-2zM497 451h2v1h-2zM499 452h2v1h-2zM501 453h4v1h-4zM505 454h4v1h-4zM509 455h4v1h-4zM513 456h20v1h-20zM533 455h2v1h-2zM535 454h2v1h-2zM537 453h2v1h-2zM539 452h2v1h-2zM541 451h2v1h-2zM543 450h2v1h-2zM545 449h2v1h-2zM547 448h2v1h-2zM549 447h2v1h-2zM551 446h2v1h-2zM553 445h3v1h-3zM556 444h2v1h-2zM558 443h2v1h-2zM560 442h2v1h-2zM562 441h2v1h-2zM564 440h2v1h-2zM566 439h2v1h-2zM569 437h2v1h-2zM572 435h2v1h-2zM574 434h2v1h-2zM577 432h2v1h-2zM579 431h3v1h-3zM582 430h6v1h-6zM588 429h5v1h-5zM593 428h59v1h-59zM652 427h15v1h-15zM667 428h16v1h-16zM683 429h11v1h-11zM694 430h5v1h-5zM699 431h6v1h-6zM705 432h4v1h-4zM709 431h3v1h-3zM712 430h4v1h-4zM716 429h3v1h-3zM719 428h3v1h-3zM722 427h6v1h-6zM728 426h8v1h-8zM736 425h6v1h-6zM742 424h6v1h-6zM748 423h5v1h-5zM753 422h4v1h-4zM757 421h2v1h-2zM759 420h2v1h-2zM761 419h2v1h-2zM763 418h2v1h-2zM765 417h2v1h-2zM767 416h2v1h-2zM769 415h2v1h-2zM772 413h2v1h-2zM774 412h2v1h-2zM777 410h2v1h-2zM780 408h2v1h-2zM782 407h2v1h-2zM785 405h2v1h-2zM826 350h2v1h-2zM835 342h21v1h-21zM856 341h8v1h-8zM864 340h27v1h-27zM891 341h27v1h-27zM918 340h6v1h-6zM924 339h5v1h-5zM929 338h5v1h-5zM934 337h6v1h-6zM940 336h5v1h-5zM945 335h23v1h-23zM968 334h8v1h-8zM976 333h11v1h-11zM987 334h29v1h-29zM1016 333h8v1h-8zM1024 332h21v1h-21zM1045 331h2v1h-2zM1047 330h2v1h-2zM1049 329h3v1h-3zM1052 328h2v1h-2zM1054 327h2v1h-2zM1056 326h2v1h-2zM1058 325h5v1h-5zM1063 326h8v1h-8zM1071 327h5v1h-5zM1076 328h2v1h-2zM1079 330h2v1h-2zM1083 333h2v1h-2zM1086 335h2v1h-2zM1089 337h2v1h-2zM1091 338h9v1h-9zM1100 337h9v1h-9zM1109 338h2v1h-2zM1111 339h3v1h-3zM1114 340h3v1h-3zM1117 341h2v1h-2zM1119 342h3v1h-3zM1122 343h2v1h-2zM1124 344h2v1h-2zM1126 345h2v1h-2zM1128 346h2v1h-2zM1130 347h2v1h-2zM1132 348h2v1h-2zM1134 349h2v1h-2zM1136 350h2v1h-2zM1138 351h3v1h-3zM1141 352h2v1h-2zM1143 353h2v1h-2zM1145 354h2v1h-2zM1147 355h3v1h-3zM1150 356h2v1h-2zM1152 357h2v1h-2zM1154 358h3v1h-3zM1157 359h3v1h-3zM1160 360h3v1h-3zM1163 361h4v1h-4zM1167 362h3v1h-3zM1170 363h3v1h-3zM1173 364h2v1h-2zM1175 365h2v1h-2zM1177 366h2v1h-2zM1179 367h3v1h-3zM1182 368h2v1h-2zM1184 369h2v1h-2zM1186 370h10v1h-10zM1196 369h8v1h-8zM1204 370h2v1h-2zM1206 371h2v1h-2zM1208 372h2v1h-2zM1211 374h2v1h-2zM1213 375h2v1h-2zM1215 376h2v1h-2zM1217 377h2v1h-2zM1220 379h2v1h-2zM1222 380h2v1h-2zM1224 381h2v1h-2zM1226 382h2v1h-2zM1228 383h2v1h-2zM1230 384h2v1h-2zM1232 385h2v1h-2zM1234 386h4v1h-4zM1238 387h5v1h-5zM1243 388h6v1h-6zM1249 389h4v1h-4zM1253 390h4v1h-4zM1257 391h4v1h-4zM1261 392h4v1h-4zM1265 393h10v1h-10zM1275 394h27v1h-27zM1302 393h6v1h-6zM1308 392h5v1h-5zM1313 391h5v1h-5zM1318 390h4v1h-4zM1322 389h4v1h-4zM1326 388h4v1h-4zM1330 387h10v1h-10zM1340 386h11v1h-11zM1351 387h8v1h-8zM1359 388h9v1h-9zM1368 387h8v1h-8zM1376 386h12v1h-12zM1388 385h15v1h-15zM1403 386h11v1h-11zM1414 385h6v1h-6zM1420 384h5v1h-5zM1425 383h3v1h-3zM148 431h1v1h-1zM149 430h1v1h-1zM150 429h1v1h-1zM151 427h1v2h-1zM152 426h1v1h-1zM153 425h1v1h-1zM154 424h1v1h-1zM155 423h1v1h-1zM156 422h1v1h-1zM157 421h1v1h-1zM158 420h1v1h-1zM159 418h1v2h-1zM160 417h1v1h-1zM161 416h1v1h-1zM162 415h1v1h-1zM200 399h1v1h-1zM203 397h1v1h-1zM208 394h1v1h-1zM211 392h1v1h-1zM214 390h1v1h-1zM215 389h1v1h-1zM218 387h1v1h-1zM219 386h1v1h-1zM222 384h1v1h-1zM223 383h1v1h-1zM226 381h1v1h-1zM227 380h1v1h-1zM232 377h1v1h-1zM235 375h1v1h-1zM240 372h1v1h-1zM388 373h1v1h-1zM389 374h1v1h-1zM390 375h1v1h-1zM393 377h1v1h-1zM394 378h1v1h-1zM395 379h1v1h-1zM396 380h1v1h-1zM397 381h1v1h-1zM398 382h1v1h-1zM401 384h1v1h-1zM402 385h1v1h-1zM436 402h1v1h-1zM439 404h1v1h-1zM440 405h1v1h-1zM443 407h1v1h-1zM444 408h1v1h-1zM447 410h1v1h-1zM448 411h1v1h-1zM451 413h1v1h-1zM454 415h1v1h-1zM457 417h1v1h-1zM458 418h1v1h-1zM461 420h1v1h-1zM464 422h1v1h-1zM467 424h1v1h-1zM468 425h1v1h-1zM469 426h1v1h-1zM470 427h1v1h-1zM471 428h1v1h-1zM472 429h1v1h-1zM473 430h1v1h-1zM474 431h1v1h-1zM475 432h1v1h-1zM476 433h1v1h-1zM477 434h1v1h-1zM478 435h1v1h-1zM479 436h1v1h-1zM480 437h1v1h-1zM481 438h1v1h-1zM482 439h1v1h-1zM483 440h1v1h-1zM484 441h1v1h-1zM487 443h1v1h-1zM488 444h1v1h-1zM491 446h1v1h-1zM492 447h1v1h-1zM495 449h1v1h-1zM496 450h1v1h-1zM568 438h1v1h-1zM571 436h1v1h-1zM576 433h1v1h-1zM771 414h1v1h-1zM776 411h1v1h-1zM779 409h1v1h-1zM784 406h1v1h-1zM787 404h1v1h-1zM788 402h1v2h-1zM789 401h1v1h-1zM790 400h1v1h-1zM791 398h1v2h-1zM792 397h1v1h-1zM793 396h1v1h-1zM794 394h1v2h-1zM795 393h1v1h-1zM796 391h1v2h-1zM797 390h1v1h-1zM798 389h1v1h-1zM799 387h1v2h-1zM800 386h1v1h-1zM801 385h1v1h-1zM802 383h1v2h-1zM803 382h1v1h-1zM804 380h1v2h-1zM805 379h1v1h-1zM806 377h1v2h-1zM807 375h1v2h-1zM808 374h1v1h-1zM809 372h1v2h-1zM810 371h1v1h-1zM811 369h1v2h-1zM812 368h1v1h-1zM813 366h1v2h-1zM814 365h1v1h-1zM815 363h1v2h-1zM816 361h1v2h-1zM817 360h1v1h-1zM818 358h1v2h-1zM819 357h1v1h-1zM820 356h1v1h-1zM821 355h1v1h-1zM822 354h1v1h-1zM823 353h1v1h-1zM824 352h1v1h-1zM825 351h1v1h-1zM828 349h1v1h-1zM829 348h1v1h-1zM830 347h1v1h-1zM831 346h1v1h-1zM832 345h1v1h-1zM833 344h1v1h-1zM834 343h1v1h-1zM1078 329h1v1h-1zM1081 331h1v1h-1zM1082 332h1v1h-1zM1085 334h1v1h-1zM1088 336h1v1h-1zM1210 373h1v1h-1zM1219 378h1v1h-1zM1428 382h1v1h-1zM1429 381h1v1h-1zM1430 380h1v1h-1zM1431 379h1v1h-1zM1432 378h1v1h-1zM1433 377h1v1h-1zM1434 376h1v1h-1zM1435 374h1v2h-1zM1436 373h1v1h-1zM1437 372h1v1h-1zM1438 371h1v1h-1zM1439 370h1v1h-1zM1440 369h1v1h-1zM1441 368h1v1h-1zM1442 367h1v1h-1zM1443 366h1v1h-1zM1444 364h1v2h-1zM1445 363h1v1h-1zM1446 361h1v2h-1zM1447 360h1v1h-1zM1448 358h1v2h-1zM1449 357h1v1h-1zM1450 355h1v2h-1zM1451 354h1v1h-1zM1452 352h1v2h-1zM1453 351h1v1h-1zM1454 349h1v2h-1zM1455 348h1v1h-1zM1456 346h1v2h-1zM1457 345h1v1h-1zM1458 343h1v2h-1zM1459 342h1v1h-1z"/>
<rect x="3" y="47" width="1868" height="1" fill="#FF0000"/>
<rect x="3" y="45" width="5" height="5" fill="#FF0000"/>
<rect x="4" y="46" width="3" height="3" fill="#FFFFF0"/>
<rect x="1866" y="45" width="5" height="5" fill="#FF0000"/>
<rect x="1867" y="46" width="3" height="3" fill="#FFFFF0"/>
<rect x="3" y="77" width="1868" height="1" fill="#FF0000"/>
<rect x="3" y="75" width="5" height="5" fill="#FF0000"/>
<rect x="4" y="76" width="3" height="3" fill="#FFFFF0"/>
<rect x="1866" y="75" width="5" height="5" fill="#FF0000"/>
<rect x="1867" y="76" width="3" height="3" fill="#FFFFF0"/>
<rect x="3" y="138" width="1868" height="1" fill="#FF0000"/>
<rect x="3" y="136" width="5" height="5" fill="#FF0000"/>
<rect x="4" y="137" width="3" height="3" fill="#FFFFF0"/>
<rect x="1866" y="136" width="5" height="5" fill="#FF0000"/>
<rect x="1867" y="137" width="3" height="3" fill="#FFFFF0"/>
<rect x="3" y="177" width="1868" height="1" fill="#FF0000"/>
<rect x="3" y="175" width="5" height="5" fill="#FF0000"/>
<rect x="4" y="176" width="3" height="3" fill="#FFFFF0"/>
<rect x="1866" y="175" width="5" height="5" fill="#FF0000"/>
<rect x="1867" y="176" width="3" height="3" fill="#FFFFF0"/>
<g clip-path="url(#cd)">
<rect x="2" y="662" width="2" height="18" fill="#FF0000"/>
<rect x="18" y="662" width="2" height="18" fill="#FF0000"/>
<rect x="34" y="671" width="2" height="9" fill="#FF0000"/>
<rect x="50" y="670" width="2" height="10" fill="#FF0000"/>
<rect x="66" y="671" width="2" height="9" fill="#FF0000"/>
<rect x="82" y="663" width="2" height="17" fill="#FF0000"/>
<rect x="98" y="654" width="2" height="26" fill="#FF0000"/>
<rect x="114" y="660" width="2" height="20" fill="#FF0000"/>
<rect x="130" y="661" width="2" height="19" fill="#FF0000"/>
<rect x="146" y="663" width="2" height="17" fill="#FF0000"/>
<rect x="162" y="666" width="2" height="14" fill="#FF0000"/>
<rect x="178" y="672" width="2" height="8" fill="#FF0000"/>
<rect x="194" y="680" width="2" height="1" fill="#008000"/>
<rect x="210" y="680" width="2" height="8" fill="#008000"/>
<rect x="226" y="675" width="2" height="5" fill="#FF0000"/>
<rect x="242" y="670" width="2" height="10" fill="#FF0000"/>
<rect x="258" y="667" width="2" height="13" fill="#FF0000"/>
<rect x="274" y="679" width="2" height="1" fill="#FF0000"/>
<rect x="290" y="680" width="2" height="28" fill="#008000"/>
<rect x="306" y="680" width="2" height="47" fill="#008000"/>
<rect x="322" y="680" width="2" height="67" fill="#008000"/>
<rect x="338" y="680" width="2" height="78" fill="#008000"/>
<rect x="354" y="680" width="2" height="73" fill="#008000"/>
<rect x="370" y="680" width="2" height="67" fill="#008000"/>
<rect x="386" y="680" width="2" height="60" fill="#008000"/>
<rect x="402" y="680" width="2" height="64" fill="#008000"/>
<rect x="418" y="680" width="2" height="57" fill="#008000"/>
<rect x="434" y="680" width="2" height="50" fill="#008000"/>
<rect x="450" y="680" width="2" height="51" fill="#008000"/>
<rect x="466" y="680" width="2" height="51" fill="#008000"/>
<rect x="482" y="680" width="2" height="58" fill="#008000"/>
<rect x="498" y="680" width="2" height="56" fill="#008000"/>
<rect x="514" y="680" width="2" height="40" fill="#008000"/>
<rect x="530" y="680" width="2" height="6" fill="#008000"/>
<rect x="546" y="663" width="2" height="17" fill="#FF0000"/>
<rect x="562" y="645" width="2" height="35" fill="#FF0000"/>
<rect x="578" y="627" width="2" height="53" fill="#FF0000"/>
<rect x="594" y="620" width="2" height="60" fill="#FF0000"/>
<rect x="610" y="627" width="2" height="53" fill="#FF0000"/>
<rect x="626" y="635" width="2" height="45" fill="#FF0000"/>
<rect x="642" y="637" width="2" height="43" fill="#FF0000"/>
<rect x="658" y="650" width="2" height="30" fill="#FF0000"/>
<rect x="674" y="656" width="2" height="24" fill="#FF0000"/>
<rect x="690" y="656" width="2" height="24" fill="#FF0000"/>
<rect x="706" y="650" width="2" height="30" fill="#FF0000"/>
<rect x="722" y="659" width="2" height="21" fill="#FF0000"/>
<rect x="738" y="675" width="2" height="5" fill="#FF0000"/>
<rect x="754" y="680" width="2" height="5" fill="#008000"/>
<rect x="770" y="680" width="2" height="11" fill="#008000"/>
<rect x="786" y="680" width="2" height="10" fill="#008000"/>
<rect x="802" y="680" width="2" height="6" fill="#008000"/>
<rect x="818" y="680" width="2" height="4" fill="#008000"/>
<rect x="834" y="680" width="2" height="7" fill="#008000"/>
<rect x="850" y="680" width="2" height="5" fill="#008000"/>
<rect x="866" y="679" width="2" height="1" fill="#FF0000"/>
<rect x="882" y="675" width="2" height="5" fill="#FF0000"/>
<rect x="898" y="671" width="2" height="9" fill="#FF0000"/>
<rect x="914" y="672" width="2" height="8" fill="#FF0000"/>
<rect x="930" y="675" width="2" height="5" fill="#FF0000"/>
<rect x="946" y="675" width="2" height="5" fill="#FF0000"/>
<rect x="962" y="677" width="2" height="3" fill="#FF0000"/>
<rect x="978" y="680" width="2" height="1" fill="#008000"/>
<rect x="994" y="680" width="2" height="11" fill="#008000"/>
<rect x="1010" y="680" width="2" height="14" fill="#008000"/>
<rect x="1026" y="680" width="2" height="9" fill="#008000"/>
<rect x="1042" y="680" width="2" height="5" fill="#008000"/>
<rect x="1058" y="680" width="2" height="2" fill="#008000"/>
<rect x="1074" y="668" width="2" height="12" fill="#FF0000"/>
<rect x="1090" y="647" width="2" height="33" fill="#FF0000"/>
<rect x="1106" y="647" width="2" height="33" fill="#FF0000"/>
<rect x="1122" y="675" width="2" height="5" fill="#FF0000"/>
<rect x="1138" y="680" width="2" height="20" fill="#008000"/>
<rect x="1154" y="680" width="2" height="40" fill="#008000"/>
<rect x="1170" y="680" width="2" height="49" fill="#008000"/>
<rect x="1186" y="680" width="2" height="56" fill="#008000"/>
<rect x="1202" y="680" width="2" height="37" fill="#008000"/>
<rect x="1218" y="674" width="2" height="6" fill="#FF0000"/>
<rect x="1234" y="638" width="2" height="42" fill="#FF0000"/>
<rect x="1250" y="617" width="2" height="63" fill="#FF0000"/>
<rect x="1266" y="601" width="2" height="79" fill="#FF0000"/>
<rect x="1282" y="598" width="2" height="82" fill="#FF0000"/>
<rect x="1298" y="601" width="2" height="79" fill="#FF0000"/>
<rect x="1314" y="604" width="2" height="76" fill="#FF0000"/>
<rect x="1330" y="617" width="2" height="63" fill="#FF0000"/>
<rect x="1346" y="627" width="2" height="53" fill="#FF0000"/>
<rect x="1362" y="625" width="2" height="55" fill="#FF0000"/>
<rect x="1378" y="628" width="2" height="52" fill="#FF0000"/>
<rect x="1394" y="640" width="2" height="40" fill="#FF0000"/>
<rect x="1410" y="647" width="2" height="33" fill="#FF0000"/>
<rect x="1426" y="656" width="2" height="24" fill="#FF0000"/>
<rect x="1442" y="666" width="2" height="14" fill="#FF0000"/>
<rect x="1458" y="673" width="2" height="7" fill="#FF0000"/>
</g>
<path clip-path="url(#cd)" fill="#0000FF" d="M3 603h3v1h-3zM6 602h6v1h-6zM12 601h5v1h-5zM17 600h4v1h-4zM21 601h2v1h-2zM23 602h3v1h-3zM26 603h3v1h-3zM29 604h2v1h-2zM31 605h3v1h-3zM34 606h3v1h-3zM37 605h3v1h-3zM40 604h4v1h-4zM44 603h3v1h-3zM47 602h3v1h-3zM50 601h4v1h-4zM54 600h6v1h-6zM60 599h5v1h-5zM65 598h3v1h-3zM68 597h2v1h-2zM70 596h2v1h-2zM72 595h2v1h-2zM74 594h2v1h-2zM77 592h2v1h-2zM79 591h2v1h-2zM81 590h2v1h-2zM84 588h2v1h-2zM87 586h2v1h-2zM90 584h2v1h-2zM94 581h2v1h-2zM97 579h2v1h-2zM99 578h4v1h-4zM103 579h8v1h-8zM111 580h9v1h-9zM120 579h8v1h-8zM128 578h8v1h-8zM136 577h8v1h-8zM144 576h23v1h-23zM167 577h8v1h-8zM175 578h7v1h-7zM182 579h5v1h-5zM187 580h6v1h-6zM193 581h4v1h-4zM197 582h3v1h-3zM200 583h3v1h-3zM203 584h4v1h-4zM207 585h3v1h-3zM210 586h2v1h-2zM212 585h2v1h-2zM216 582h2v1h-2zM220 579h2v1h-2zM224 576h2v1h-2zM227 574h3v1h-3zM230 573h4v1h-4zM234 572h4v1h-4zM238 571h4v1h-4zM242 570h4v1h-4zM246 569h4v1h-4zM250 568h4v1h-4zM254 567h4v1h-4zM258 566h2v1h-2zM260 567h2v1h-2zM262 568h2v1h-2zM264 569h2v1h-2zM267 571h2v1h-2zM269 572h2v1h-2zM271 573h2v1h-2zM273 574h2v1h-2zM339 658h2v1h-2zM341 659h4v1h-4zM345 660h4v1h-4zM349 661h4v1h-4zM353 662h4v1h-4zM357 663h2v1h-2zM359 664h3v1h-3zM362 665h3v1h-3zM365 666h2v1h-2zM367 667h3v1h-3zM370 668h3v1h-3zM373 669h2v1h-2zM375 670h2v1h-2zM377 671h2v1h-2zM379 672h3v1h-3zM382 673h2v1h-2zM384 674h2v1h-2zM386 675h2v1h-2zM404 692h2v1h-2zM406 693h2v1h-2zM408 694h2v1h-2zM411 696h2v1h-2zM413 697h2v1h-2zM415 698h2v1h-2zM417 699h2v1h-2zM419 700h2v1h-2zM421 701h3v1h-3zM424 702h3v1h-3zM427 703h4v1h-4zM431 704h3v1h-3zM434 705h2v1h-2zM437 707h2v1h-2zM443 712h2v1h-2zM448 716h2v1h-2zM452 719h2v1h-2zM455 721h2v1h-2zM457 722h2v1h-2zM460 724h2v1h-2zM463 726h2v1h-2zM465 727h2v1h-2zM471 732h2v1h-2zM479 739h2v1h-2zM484 743h2v1h-2zM486 744h2v1h-2zM488 745h2v1h-2zM491 747h2v1h-2zM493 748h2v1h-2zM495 749h2v1h-2zM497 750h2v1h-2zM499 751h3v1h-3zM502 750h4v1h-4zM506 749h4v1h-4zM510 748h4v1h-4zM514 747h2v1h-2zM549 709h2v1h-2zM554 705h2v1h-2zM560 700h2v1h-2zM580 681h2v1h-2zM582 680h2v1h-2zM585 678h2v1h-2zM588 676h2v1h-2zM590 675h2v1h-2zM593 673h2v1h-2zM595 672h9v1h-9zM604 671h12v1h-12zM616 670h8v1h-8zM624 669h5v1h-5zM629 668h2v1h-2zM631 667h2v1h-2zM633 666h2v1h-2zM635 665h2v1h-2zM637 664h2v1h-2zM639 663h2v1h-2zM641 662h2v1h-2zM643 661h19v1h-19zM662 660h4v1h-4zM666 659h4v1h-4zM670 658h4v1h-4zM674 657h3v1h-3zM677 656h2v1h-2zM679 655h2v1h-2zM681 654h3v1h-3zM684 653h2v1h-2zM686 652h2v1h-2zM688 651h2v1h-2zM690 650h2v1h-2zM692 649h2v1h-2zM695 647h2v1h-2zM698 645h2v1h-2zM702 642h2v1h-2zM705 640h2v1h-2zM707 639h4v1h-4zM711 640h8v1h-8zM719 641h5v1h-5zM724 642h2v1h-2zM727 644h2v1h-2zM729 645h2v1h-2zM732 647h2v1h-2zM735 649h2v1h-2zM737 650h2v1h-2zM739 651h2v1h-2zM741 652h2v1h-2zM743 653h3v1h-3zM746 654h3v1h-3zM749 655h2v1h-2zM751 656h3v1h-3zM754 657h3v1h-3zM757 658h4v1h-4zM761 659h4v1h-4zM765 660h4v1h-4zM769 661h11v1h-11zM780 660h10v1h-10zM790 659h4v1h-4zM794 658h4v1h-4zM798 657h4v1h-4zM802 656h10v1h-10zM812 655h11v1h-11zM823 656h8v1h-8zM831 657h12v1h-12zM843 658h11v1h-11zM854 657h6v1h-6zM860 656h5v1h-5zM865 655h5v1h-5zM870 654h6v1h-6zM876 653h5v1h-5zM881 652h5v1h-5zM886 651h6v1h-6zM892 650h5v1h-5zM897 649h70v1h-70zM967 650h8v1h-8zM975 651h5v1h-5zM980 652h2v1h-2zM982 653h2v1h-2zM984 654h2v1h-2zM986 655h2v1h-2zM988 656h2v1h-2zM990 657h2v1h-2zM992 658h2v1h-2zM994 659h4v1h-4zM998 660h5v1h-5zM1003 661h6v1h-6zM1009 662h5v1h-5zM1014 661h6v1h-6zM1020 660h5v1h-5zM1025 659h7v1h-7zM1032 658h8v1h-8zM1040 657h8v1h-8zM1048 656h8v1h-8zM1056 655h4v1h-4zM1060 654h2v1h-2zM1063 652h2v1h-2zM1066 650h2v1h-2zM1070 647h2v1h-2zM1073 645h2v1h-2zM1091 626h3v1h-3zM1094 625h6v1h-6zM1100 624h5v1h-5zM1105 623h3v1h-3zM1156 680h2v1h-2zM1159 682h2v1h-2zM1163 685h2v1h-2zM1166 687h2v1h-2zM1169 689h2v1h-2zM1172 691h2v1h-2zM1175 693h2v1h-2zM1177 694h2v1h-2zM1180 696h2v1h-2zM1183 698h2v1h-2zM1185 699h2v1h-2zM1188 699h2v1h-2zM1190 698h2v1h-2zM1193 696h2v1h-2zM1196 694h2v1h-2zM1198 693h2v1h-2zM1201 691h2v1h-2zM1268 597h2v1h-2zM1271 595h2v1h-2zM1274 593h2v1h-2zM1278 590h2v1h-2zM1281 588h2v1h-2zM1283 587h2v1h-2zM1285 586h2v1h-2zM1287 585h2v1h-2zM1289 584h2v1h-2zM1291 583h2v1h-2zM1293 582h2v1h-2zM1295 581h2v1h-2zM1297 580h2v1h-2zM1300 578h2v1h-2zM1304 575h2v1h-2zM1308 572h2v1h-2zM1312 569h2v1h-2zM1315 567h2v1h-2zM1317 566h3v1h-3zM1320 565h4v1h-4zM1324 564h3v1h-3zM1327 563h3v1h-3zM1330 562h3v1h-3zM1333 561h2v1h-2zM1335 560h2v1h-2zM1337 559h3v1h-3zM1340 558h2v1h-2zM1342 557h2v1h-2zM1344 556h2v1h-2zM1346 555h2v1h-2zM1354 548h2v1h-2zM1364 539h2v1h-2zM1366 538h2v1h-2zM1368 537h2v1h-2zM1370 536h2v1h-2zM1373 534h2v1h-2zM1375 533h2v1h-2zM1377 532h2v1h-2zM1379 531h5v1h-5zM1384 530h8v1h-8zM1392 529h12v1h-12zM1404 528h27v1h-27zM1431 529h8v1h-8zM1439 530h8v1h-8zM1447 531h8v1h-8zM1455 532h5v1h-5zM76 593h1v1h-1zM83 589h1v1h-1zM86 587h1v1h-1zM89 585h1v1h-1zM92 583h1v1h-1zM93 582h1v1h-1zM96 580h1v1h-1zM214 584h1v1h-1zM215 583h1v1h-1zM218 581h1v1h-1zM219 580h1v1h-1zM222 578h1v1h-1zM223 577h1v1h-1zM226 575h1v1h-1zM266 570h1v1h-1zM275 575h1v1h-1zM276 576h1v2h-1zM277 578h1v1h-1zM278 579h1v2h-1zM279 581h1v1h-1zM280 582h1v2h-1zM281 584h1v1h-1zM282 585h1v2h-1zM283 587h1v1h-1zM284 588h1v2h-1zM285 590h1v1h-1zM286 591h1v2h-1zM287 593h1v1h-1zM288 594h1v2h-1zM289 596h1v1h-1zM290 597h1v2h-1zM291 599h1v1h-1zM292 600h1v1h-1zM293 601h1v1h-1zM294 602h1v2h-1zM295 604h1v1h-1zM296 605h1v1h-1zM297 606h1v1h-1zM298 607h1v1h-1zM299 608h1v2h-1zM300 610h1v1h-1zM301 611h1v1h-1zM302 612h1v1h-1zM303 613h1v1h-1zM304 614h1v2h-1zM305 616h1v1h-1zM306 617h1v1h-1zM307 618h1v1h-1zM308 619h1v1h-1zM309 620h1v2h-1zM310 622h1v1h-1zM311 623h1v1h-1zM312 624h1v2h-1zM313 626h1v1h-1zM314 627h1v1h-1zM315 628h1v2h-1zM316 630h1v1h-1zM317 631h1v1h-1zM318 632h1v2h-1zM319 634h1v1h-1zM320 635h1v1h-1zM321 636h1v2h-1zM322 638h1v1h-1zM323 639h1v1h-1zM324 640h1v1h-1zM325 641h1v1h-1zM326 642h1v2h-1zM327 644h1v1h-1zM328 645h1v1h-1zM329 646h1v1h-1zM330 647h1v1h-1zM331 648h1v2h-1zM332 650h1v1h-1zM333 651h1v1h-1zM334 652h1v1h-1zM335 653h1v1h-1zM336 654h1v2h-1zM337 656h1v1h-1zM338 657h1v1h-1zM388 676h1v1h-1zM389 677h1v1h-1zM390 678h1v1h-1zM391 679h1v1h-1zM392 680h1v1h-1zM393 681h1v1h-1zM394 682h1v1h-1zM395 683h1v1h-1zM396 684h1v1h-1zM397 685h1v1h-1zM398 686h1v1h-1zM399 687h1v1h-1zM400 688h1v1h-1zM401 689h1v1h-1zM402 690h1v1h-1zM403 691h1v1h-1zM410 695h1v1h-1zM436 706h1v1h-1zM439 708h1v1h-1zM440 709h1v1h-1zM441 710h1v1h-1zM442 711h1v1h-1zM445 713h1v1h-1zM446 714h1v1h-1zM447 715h1v1h-1zM450 717h1v1h-1zM451 718h1v1h-1zM454 720h1v1h-1zM459 723h1v1h-1zM462 725h1v1h-1zM467 728h1v1h-1zM468 729h1v1h-1zM469 730h1v1h-1zM470 731h1v1h-1zM473 733h1v1h-1zM474 734h1v1h-1zM475 735h1v1h-1zM476 736h1v1h-1zM477 737h1v1h-1zM478 738h1v1h-1zM481 740h1v1h-1zM482 741h1v1h-1zM483 742h1v1h-1zM490 746h1v1h-1zM516 746h1v1h-1zM517 744h1v2h-1zM518 743h1v1h-1zM519 742h1v1h-1zM520 741h1v1h-1zM521 739h1v2h-1zM522 738h1v1h-1zM523 737h1v1h-1zM524 736h1v1h-1zM525 734h1v2h-1zM526 733h1v1h-1zM527 732h1v1h-1zM528 731h1v1h-1zM529 729h1v2h-1zM530 728h1v1h-1zM531 727h1v1h-1zM532 726h1v1h-1zM533 725h1v1h-1zM534 724h1v1h-1zM535 723h1v1h-1zM536 722h1v1h-1zM537 721h1v1h-1zM538 720h1v1h-1zM539 719h1v1h-1zM540 718h1v1h-1zM541 717h1v1h-1zM542 716h1v1h-1zM543 715h1v1h-1zM544 714h1v1h-1zM545 713h1v1h-1zM546 712h1v1h-1zM547 711h1v1h-1zM548 710h1v1h-1zM551 708h1v1h-1zM552 707h1v1h-1zM553 706h1v1h-1zM556 704h1v1h-1zM557 703h1v1h-1zM558 702h1v1h-1zM559 701h1v1h-1zM562 699h1v1h-1zM563 698h1v1h-1zM564 697h1v1h-1zM565 696h1v1h-1zM566 695h1v1h-1zM567 694h1v1h-1zM568 693h1v1h-1zM569 692h1v1h-1zM570 691h1v1h-1zM571 690h1v1h-1zM572 689h1v1h-1zM573 688h1v1h-1zM574 687h1v1h-1zM575 686h1v1h-1zM576 685h1v1h-1zM577 684h1v1h-1zM578 683h1v1h-1zM579 682h1v1h-1zM584 679h1v1h-1zM587 677h1v1h-1zM592 674h1v1h-1zM694 648h1v1h-1zM697 646h1v1h-1zM700 644h1v1h-1zM701 643h1v1h-1zM704 641h1v1h-1zM726 643h1v1h-1zM731 646h1v1h-1zM734 648h1v1h-1zM1062 653h1v1h-1zM1065 651h1v1h-1zM1068 649h1v1h-1zM1069 648h1v1h-1zM1072 646h1v1h-1zM1075 644h1v1h-1zM1076 643h1v1h-1zM1077 642h1v1h-1zM1078 641h1v1h-1zM1079 639h1v2h-1zM1080 638h1v1h-1zM1081 637h1v1h-1zM1082 636h1v1h-1zM1083 635h1v1h-1zM1084 634h1v1h-1zM1085 633h1v1h-1zM1086 632h1v1h-1zM1087 630h1v2h-1zM1088 629h1v1h-1zM1089 628h1v1h-1zM1090 627h1v1h-1zM1108 624h1v1h-1zM1109 625h1v2h-1zM1110 627h1v1h-1zM1111 628h1v1h-1zM1112 629h1v2h-1zM1113 631h1v1h-1zM1114 632h1v1h-1zM1115 633h1v2h-1zM1116 635h1v1h-1zM1117 636h1v1h-1zM1118 637h1v2h-1zM1119 639h1v1h-1zM1120 640h1v1h-1zM1121 641h1v2h-1zM1122 643h1v1h-1zM1123 644h1v1h-1zM1124 645h1v1h-1zM1125 646h1v1h-1zM1126 647h1v2h-1zM1127 649h1v1h-1zM1128 650h1v1h-1zM1129 651h1v1h-1zM1130 652h1v1h-1zM1131 653h1v2h-1zM1132 655h1v1h-1zM1133 656h1v1h-1zM1134 657h1v1h-1zM1135 658h1v1h-1zM1136 659h1v2h-1zM1137 661h1v1h-1zM1138 662h1v1h-1zM1139 663h1v1h-1zM1140 664h1v1h-1zM1141 665h1v1h-1zM1142 666h1v1h-1zM1143 667h1v1h-1zM1144 668h1v1h-1zM1145 669h1v1h-1zM1146 670h1v1h-1zM1147 671h1v1h-1zM1148 672h1v1h-1zM1149 673h1v1h-1zM1150 674h1v1h-1zM1151 675h1v1h-1zM1152 676h1v1h-1zM1153 677h1v1h-1zM1154 678h1v1h-1zM1155 679h1v1h-1zM1158 681h1v1h-1zM1161 683h1v1h-1zM1162 684h1v1h-1zM1165 686h1v1h-1zM1168 688h1v1h-1zM1171 690h1v1h-1zM1174 692h1v1h-1zM1179 695h1v1h-1zM1182 697h1v1h-1zM1187 700h1v1h-1zM1192 697h1v1h-1zM1195 695h1v1h-1zM1200 692h1v1h-1zM1203 690h1v1h-1zM1204 688h1v2h-1zM1205 686h1v2h-1zM1206 684h1v2h-1zM1207 682h1v2h-1zM1208 680h1v2h-1zM1209 678h1v2h-1zM1210 676h1v2h-1zM1211 675h1v1h-1zM1212 673h1v2h-1zM1213 671h1v2h-1zM1214 669h1v2h-1zM1215 667h1v2h-1zM1216 665h1v2h-1zM1217 663h1v2h-1zM1218 661h1v2h-1zM1219 660h1v1h-1zM1220 658h1v2h-1zM1221 656h1v2h-1zM1222 655h1v1h-1zM1223 653h1v2h-1zM1224 651h1v2h-1zM1225 650h1v1h-1zM1226 648h1v2h-1zM1227 646h1v2h-1zM1228 644h1v2h-1zM1229 643h1v1h-1zM1230 641h1v2h-1zM1231 639h1v2h-1zM1232 638h1v1h-1zM1233 636h1v2h-1zM1234 634h1v2h-1zM1235 633h1v1h-1zM1236 632h1v1h-1zM1237 631h1v1h-1zM1238 630h1v1h-1zM1239 628h1v2h-1zM1240 627h1v1h-1zM1241 626h1v1h-1zM1242 625h1v1h-1zM1243 624h1v1h-1zM1244 623h1v1h-1zM1245 622h1v1h-1zM1246 621h1v1h-1zM1247 619h1v2h-1zM1248 618h1v1h-1zM1249 617h1v1h-1zM1250 616h1v1h-1zM1251 615h1v1h-1zM1252 614h1v1h-1zM1253 613h1v1h-1zM1254 612h1v1h-1zM1255 611h1v1h-1zM1256 610h1v1h-1zM1257 609h1v1h-1zM1258 608h1v1h-1zM1259 606h1v2h-1zM1260 605h1v1h-1zM1261 604h1v1h-1zM1262 603h1v1h-1zM1263 602h1v1h-1zM1264 601h1v1h-1zM1265 600h1v1h-1zM1266 599h1v1h-1zM1267 598h1v1h-1zM1270 596h1v1h-1zM1273 594h1v1h-1zM1276 592h1v1h-1zM1277 591h1v1h-1zM1280 589h1v1h-1zM1299 579h1v1h-1zM1302 577h1v1h-1zM1303 576h1v1h-1zM1306 574h1v1h-1zM1307 573h1v1h-1zM1310 571h1v1h-1zM1311 570h1v1h-1zM1314 568h1v1h-1zM1348 554h1v1h-1zM1349 553h1v1h-1zM1350 552h1v1h-1zM1351 551h1v1h-1zM1352 550h1v1h-1zM1353 549h1v1h-1zM1356 547h1v1h-1zM1357 546h1v1h-1zM1358 545h1v1h-1zM1359 544h1v1h-1zM1360 543h1v1h-1zM1361 542h1v1h-1zM1362 541h1v1h-1zM1363 540h1v1h-1zM1372 535h1v1h-1z"/>
<path clip-path="url(#cd)" fill="#FF0000" d="M779 652h59v2h-59zM939 652h17v2h-17zM1014 652h9v2h-9zM1079 652h9v2h-9zM1162 652h5v2h-5zM1278 652h3v2h-3zM727 656h9v2h-9zM858 656h34v2h-34zM1175 656h4v2h-4zM1270 656h3v2h-3zM420 658h3v2h-3zM717 658h5v2h-5zM1182 658h4v2h-4zM1265 658h4v2h-4zM43 609h6v2h-6zM144 588h8v2h-8zM318 588h4v2h-4zM107 595h6v2h-6zM333 595h3v2h-3zM165 585h7v2h-7zM310 585h4v2h-4zM512 717h3v2h-3zM596 717h4v2h-4zM69 603h7v2h-7zM347 603h3v2h-3zM494 706h3v2h-3zM622 706h3v2h-3zM487 702h3v2h-3zM37 610h7v2h-7zM358 610h3v2h-3zM955 651h60v2h-60zM1087 651h7v2h-7zM1159 651h4v2h-4zM1280 651h3v2h-3zM713 659h5v2h-5zM1185 659h5v2h-5zM1262 659h4v2h-4zM467 690h3v2h-3zM203 579h29v2h-29zM294 579h4v2h-4zM1363 579h3v2h-3zM247 576h9v2h-9zM278 576h9v2h-9zM480 698h3v2h-3zM662 681h3v2h-3zM1398 559h3v2h-3zM1456 537h4v2h-4zM57 606h5v2h-5zM352 606h3v2h-3zM454 682h3v2h-3zM660 682h3v2h-3zM703 662h3v2h-3zM1200 662h11v2h-11zM1252 662h4v2h-4zM1099 649h6v2h-6zM1146 649h11v2h-11zM1283 649h3v2h-3zM747 654h17v2h-17zM842 654h7v2h-7zM907 654h17v2h-17zM1050 654h18v2h-18zM1169 654h4v2h-4zM1274 654h3v2h-3zM538 725h28v2h-28zM502 711h3v2h-3zM612 711h3v2h-3zM1289 645h3v2h-3zM1417 550h4v2h-4zM735 655h13v2h-13zM848 655h11v2h-11zM891 655h17v2h-17zM1172 655h4v2h-4zM1272 655h3v2h-3zM414 653h3v2h-3zM763 653h17v2h-17zM837 653h6v2h-6zM923 653h17v2h-17zM1022 653h29v2h-29zM1067 653h13v2h-13zM1166 653h4v2h-4zM1276 653h3v2h-3zM459 685h3v2h-3zM181 582h7v2h-7zM302 582h4v2h-4zM475 695h3v2h-3zM443 675h3v2h-3zM674 675h3v2h-3zM448 678h3v2h-3zM668 678h3v2h-3zM614 710h3v2h-3zM171 584h6v2h-6zM308 584h3v2h-3zM1357 584h3v2h-3zM666 679h3v2h-3zM656 684h3v2h-3zM372 619h3v2h-3zM529 724h10v2h-10zM565 724h7v2h-7zM507 714h3v2h-3zM604 714h4v2h-4zM1386 565h3v2h-3zM5 615h7v2h-7zM366 615h3v2h-3zM1435 543h3v2h-3zM510 716h3v2h-3zM599 716h3v2h-3zM426 663h3v2h-3zM701 663h3v2h-3zM1210 663h43v2h-43zM721 657h7v2h-7zM1178 657h5v2h-5zM1268 657h3v2h-3zM176 583h6v2h-6zM305 583h4v2h-4zM192 580h12v2h-12zM297 580h4v2h-4zM470 692h3v2h-3zM643 692h3v2h-3zM187 581h6v2h-6zM300 581h3v2h-3zM464 688h3v2h-3zM683 671h3v2h-3zM438 672h3v2h-3zM680 672h4v2h-4zM239 577h9v2h-9zM286 577h7v2h-7zM1366 577h3v2h-3zM705 661h5v2h-5zM1194 661h7v2h-7zM1255 661h5v2h-5zM601 715h4v2h-4zM499 709h3v2h-3zM616 709h3v2h-3zM485 701h3v2h-3zM630 701h3v2h-3zM516 719h3v2h-3zM589 719h5v2h-5zM1428 546h3v2h-3zM431 667h3v2h-3zM692 667h3v2h-3zM97 597h5v2h-5zM337 597h3v2h-3zM451 680h3v2h-3zM664 680h3v2h-3zM689 668h4v2h-4zM524 722h3v2h-3zM576 722h6v2h-6zM1423 548h3v2h-3zM687 669h3v2h-3zM117 593h7v2h-7zM329 593h3v2h-3zM85 600h5v2h-5zM342 600h3v2h-3zM514 718h3v2h-3zM593 718h4v2h-4zM1104 648h43v2h-43zM31 611h7v2h-7zM360 611h3v2h-3zM151 587h9v2h-9zM316 587h3v2h-3zM133 590h7v2h-7zM323 590h3v2h-3zM699 664h3v2h-3zM446 677h3v2h-3zM670 677h3v2h-3zM504 712h3v2h-3zM609 712h4v2h-4zM53 607h5v2h-5zM1445 539h7v2h-7zM483 700h3v2h-3zM255 575h24v2h-24zM1369 575h3v2h-3zM645 691h3v2h-3zM676 674h3v2h-3zM1093 650h7v2h-7zM1156 650h4v2h-4zM709 660h5v2h-5zM1189 660h6v2h-6zM1259 660h4v2h-4zM16 613h8v2h-8zM363 613h3v2h-3zM435 670h3v2h-3zM685 670h3v2h-3zM159 586h7v2h-7zM313 586h4v2h-4zM2 616h4v2h-4zM368 616h3v2h-3zM1437 542h3v2h-3zM490 704h3v2h-3zM1406 555h3v2h-3zM672 676h3v2h-3zM456 683h3v2h-3zM658 683h3v2h-3zM637 696h3v2h-3zM694 666h3v2h-3zM231 578h9v2h-9zM292 578h3v2h-3zM478 697h3v2h-3zM65 604h5v2h-5zM93 598h5v2h-5zM339 598h3v2h-3zM1394 561h3v2h-3zM376 622h3v2h-3zM101 596h7v2h-7zM335 596h3v2h-3zM61 605h5v2h-5zM350 605h3v2h-3zM80 601h6v2h-6zM344 601h3v2h-3zM399 640h3v2h-3zM1296 640h3v2h-3zM388 631h3v2h-3zM440 673h3v2h-3zM678 673h3v2h-3zM384 628h3v2h-3zM48 608h6v2h-6zM355 608h3v2h-3zM1415 551h3v2h-3zM462 687h3v2h-3zM651 687h3v2h-3zM380 625h3v2h-3zM1388 564h3v2h-3zM1384 566h3v2h-3zM1432 544h4v2h-4zM11 614h6v2h-6zM526 723h4v2h-4zM571 723h6v2h-6zM1376 570h3v2h-3zM518 720h4v2h-4zM585 720h5v2h-5zM23 612h9v2h-9zM1425 547h4v2h-4zM1410 553h3v2h-3zM139 589h6v2h-6zM321 589h3v2h-3zM128 591h6v2h-6zM325 591h3v2h-3zM1349 591h3v2h-3zM1392 562h3v2h-3zM1441 540h5v2h-5zM112 594h6v2h-6zM331 594h3v2h-3zM1412 552h4v2h-4zM627 703h3v2h-3zM521 721h4v2h-4zM581 721h5v2h-5zM1404 556h3v2h-3zM406 646h3v2h-3zM496 707h3v2h-3zM620 707h3v2h-3zM1373 572h3v2h-3zM1420 549h4v2h-4zM75 602h6v2h-6zM1337 602h3v2h-3zM1293 642h3v2h-3zM1286 647h3v2h-3zM1382 567h3v2h-3zM1430 545h3v2h-3zM1400 558h3v2h-3zM89 599h5v2h-5zM633 699h3v2h-3zM1402 557h3v2h-3zM394 636h3v2h-3zM1301 636h3v2h-3zM123 592h6v2h-6zM327 592h3v2h-3zM618 708h3v2h-3zM1451 538h6v2h-6zM1390 563h3v2h-3zM1309 629h3v2h-3zM653 686h3v2h-3zM492 705h3v2h-3zM624 705h3v2h-3zM1439 541h3v2h-3zM640 694h3v2h-3zM607 713h3v2h-3zM696 665h4v2h-4zM1380 568h3v2h-3zM472 693h3v2h-3zM1408 554h3v2h-3zM648 689h3v2h-3zM1396 560h3v2h-3zM1378 569h3v2h-3zM1329 610h2v2h-2zM1330 609h2v2h-2zM642 693h2v2h-2zM393 635h2v2h-2zM411 650h2v2h-2zM429 665h2v2h-2zM354 607h2v2h-2zM422 659h2v2h-2zM1361 581h2v2h-2zM1328 611h2v2h-2zM506 713h2v2h-2zM632 700h2v2h-2zM412 651h2v2h-2zM1359 583h2v2h-2zM1365 578h2v2h-2zM1319 620h2v2h-2zM383 627h2v2h-2zM349 604h2v2h-2zM636 697h2v2h-2zM437 671h2v2h-2zM1347 593h2v2h-2zM1317 622h2v2h-2zM1352 589h2v2h-2zM1318 621h2v2h-2zM401 641h2v2h-2zM370 617h2v2h-2zM413 652h2v2h-2zM458 684h2v2h-2zM1345 595h2v2h-2zM1316 623h2v2h-2zM1351 590h2v2h-2zM365 614h2v2h-2zM391 633h2v2h-2zM647 690h2v2h-2zM402 642h2v2h-2zM453 681h2v2h-2zM378 623h2v2h-2zM1344 596h2v2h-2zM1336 603h2v2h-2zM392 634h2v2h-2zM1342 598h2v2h-2zM1308 630h2v2h-2zM1291 644h2v2h-2zM403 643h2v2h-2zM1292 643h2v2h-2zM474 694h2v2h-2zM469 691h2v2h-2zM442 674h2v2h-2zM489 703h2v2h-2zM404 644h2v2h-2zM1341 599h2v2h-2zM1295 641h2v2h-2zM405 645h2v2h-2zM1282 650h2v2h-2zM423 660h2v2h-2zM434 669h2v2h-2zM1326 613h2v2h-2zM1327 612h2v2h-2zM635 698h2v2h-2zM424 661h2v2h-2zM1368 576h2v2h-2zM498 708h2v2h-2zM387 630h2v2h-2zM1324 615h2v2h-2zM1325 614h2v2h-2zM639 695h2v2h-2zM1371 574h2v2h-2zM1372 573h2v2h-2zM626 704h2v2h-2zM655 685h2v2h-2zM371 618h2v2h-2zM425 662h2v2h-2zM418 656h2v2h-2zM1343 597h2v2h-2zM1314 625h2v2h-2zM1315 624h2v2h-2zM357 609h2v2h-2zM1307 631h2v2h-2zM379 624h2v2h-2zM1312 627h2v2h-2zM1313 626h2v2h-2zM433 668h2v2h-2zM386 629h2v2h-2zM1311 628h2v2h-2zM397 638h2v2h-2zM346 602h2v2h-2zM1300 637h2v2h-2zM1335 604h2v2h-2zM1306 632h2v2h-2zM398 639h2v2h-2zM416 654h2v2h-2zM1333 606h2v2h-2zM1299 638h2v2h-2zM1334 605h2v2h-2zM1304 634h2v2h-2zM1339 601h2v2h-2zM461 686h2v2h-2zM341 599h2v2h-2zM1332 607h2v2h-2zM1303 635h2v2h-2zM362 612h2v2h-2zM450 679h2v2h-2zM1362 580h2v2h-2zM1323 616h2v2h-2zM1375 571h2v2h-2zM477 696h2v2h-2zM629 702h2v2h-2zM375 621h2v2h-2zM1355 586h2v2h-2zM1321 618h2v2h-2zM1356 585h2v2h-2zM1322 617h2v2h-2zM650 688h2v2h-2zM419 657h2v2h-2zM445 676h2v2h-2zM430 666h2v2h-2zM382 626h2v2h-2zM1354 587h2v2h-2zM1320 619h2v2h-2zM1360 582h2v2h-2zM509 715h2v2h-2zM396 637h2v2h-2zM466 689h2v2h-2zM1353 588h2v2h-2zM1305 633h2v2h-2zM1340 600h2v2h-2zM501 710h2v2h-2zM1348 592h2v2h-2zM390 632h2v2h-2zM408 647h2v2h-2zM409 648h2v2h-2zM1346 594h2v2h-2zM1298 639h2v2h-2zM1285 648h2v2h-2zM374 620h2v2h-2zM417 655h2v2h-2zM410 649h2v2h-2zM428 664h2v2h-2zM482 699h2v2h-2zM1331 608h2v2h-2zM1288 646h2v2h-2z"/>
<rect x="2" y="2" width="1870" height="1" fill="#000000"/>
<rect x="2" y="2" width="1" height="768" fill="#000000"/>
<rect x="1871" y="2" width="1" height="768" fill="#000000"/>
<rect x="2" y="513" width="1870" height="1" fill="#000000"/>
<rect x="2" y="514" width="1" height="1" fill="#FFFFF0"/>
<rect x="2" y="515" width="1870" height="1" fill="#000000"/>
<rect x="2" y="769" width="1870" height="1" fill="#000000"/>
<rect x="1872" y="15" width="2" height="1" fill="#000000"/>
<rect x="1872" y="48" width="2" height="1" fill="#000000"/>
<rect x="1872" y="81" width="2" height="1" fill="#000000"/>
<rect x="1872" y="114" width="2" height="1" fill="#000000"/>
<rect x="1872" y="147" width="2" height="1" fill="#000000"/>
<rect x="1872" y="180" width="2" height="1" fill="#000000"/>
<rect x="1872" y="213" width="2" height="1" fill="#000000"/>
<rect x="1872" y="246" width="2" height="1" fill="#000000"/>
<rect x="1872" y="279" width="2" height="1" fill="#000000"/>
<rect x="1872" y="312" width="2" height="1" fill="#000000"/>
<rect x="1872" y="345" width="2" height="1" fill="#000000"/>
<rect x="1872" y="378" width="2" height="1" fill="#000000"/>
<rect x="1872" y="411" width="2" height="1" fill="#000000"/>
<rect x="1872" y="444" width="2" height="1" fill="#000000"/>
<rect x="1872" y="477" width="2" height="1" fill="#000000"/>
<rect x="1872" y="510" width="2" height="1" fill="#000000"/>
<rect x="1872" y="517" width="1" height="1" fill="#000000"/>
<rect x="1872" y="680" width="1" height="1" fill="#000000"/>
<rect x="1872" y="768" width="1" height="1" fill="#000000"/>
<rect x="3" y="770" width="1" height="3" fill="#000000"/>
<rect x="67" y="770" width="1" height="3" fill="#000000"/>
<rect x="131" y="770" width="1" height="3" fill="#000000"/>
<rect x="195" y="770" width="1" height="3" fill="#000000"/>
<rect x="259" y="770" width="1" height="3" fill="#000000"/>
<rect x="323" y="770" width="1" height="3" fill="#000000"/>
<rect x="387" y="770" width="1" height="3" fill="#000000"/>
<rect x="451" y="770" width="1" height="3" fill="#000000"/>
<rect x="515" y="770" width="1" height="3" fill="#000000"/>
<rect x="579" y="770" width="1" height="3" fill="#000000"/>
<rect x="643" y="770" width="1" height="3" fill="#000000"/>
<rect x="707" y="770" width="1" height="3" fill="#000000"/>
<rect x="771" y="770" width="1" height="3" fill="#000000"/>
<rect x="835" y="770" width="1" height="3" fill="#000000"/>
<rect x="899" y="770" width="1" height="3" fill="#000000"/>
<rect x="963" y="770" width="1" height="3" fill="#000000"/>
<rect x="1027" y="770" width="1" height="3" fill="#000000"/>
<rect x="1091" y="770" width="1" height="3" fill="#000000"/>
<rect x="1155" y="770" width="1" height="3" fill="#000000"/>
<rect x="1219" y="770" width="1" height="3" fill="#000000"/>
<rect x="1283" y="770" width="1" height="3" fill="#000000"/>
<rect x="1347" y="770" width="1" height="3" fill="#000000"/>
<rect x="1411" y="770" width="1" height="3" fill="#000000"/>
<g font-family="Liberation Sans, sans-serif" font-size="9.3px" shape-rendering="auto" text-rendering="geometricPrecision" stroke="#000" stroke-width="0.2">
<text x="1877" y="19" fill="#000">52.170</text>
<text x="1877" y="52" fill="#000">51.710</text>
<text x="1877" y="85" fill="#000">51.250</text>
<text x="1877" y="118" fill="#000">50.790</text>
<text x="1877" y="151" fill="#000">50.330</text>
<text x="1877" y="184" fill="#000">49.870</text>
<text x="1877" y="217" fill="#000">49.420</text>
<text x="1877" y="250" fill="#000">48.960</text>
<text x="1877" y="283" fill="#000">48.500</text>
<text x="1877" y="316" fill="#000">48.040</text>
<text x="1877" y="349" fill="#000">47.580</text>
<text x="1877" y="382" fill="#000">47.130</text>
<text x="1877" y="415" fill="#000">46.670</text>
<text x="1877" y="448" fill="#000">46.210</text>
<text x="1877" y="481" fill="#000">45.750</text>
<text x="1877" y="514" fill="#000">45.290</text>
<text x="2.5" y="782" letter-spacing="-0.08">16 Dec 2020</text>
<text x="66.5" y="782" letter-spacing="-0.08">16 Dec 20:00</text>
<text x="130.5" y="782" letter-spacing="-0.08">17 Dec 12:00</text>
<text x="194.5" y="782" letter-spacing="-0.08">18 Dec 04:00</text>
<text x="258.5" y="782" letter-spacing="-0.08">18 Dec 20:00</text>
<text x="322.5" y="782" letter-spacing="-0.08">21 Dec 08:00</text>
<text x="386.5" y="782" letter-spacing="-0.08">22 Dec 00:00</text>
<text x="450.5" y="782" letter-spacing="-0.08">22 Dec 16:00</text>
<text x="514.5" y="782" letter-spacing="-0.08">23 Dec 08:00</text>
<text x="578.5" y="782" letter-spacing="-0.08">24 Dec 00:00</text>
<text x="642.5" y="782" letter-spacing="-0.08">24 Dec 16:00</text>
<text x="706.5" y="782" letter-spacing="-0.08">28 Dec 08:00</text>
<text x="770.5" y="782" letter-spacing="-0.08">29 Dec 00:00</text>
<text x="834.5" y="782" letter-spacing="-0.08">29 Dec 16:00</text>
<text x="898.5" y="782" letter-spacing="-0.08">30 Dec 08:00</text>
<text x="962.5" y="782" letter-spacing="-0.08">31 Dec 00:00</text>
<text x="1026.5" y="782" letter-spacing="-0.08">31 Dec 16:00</text>
<text x="1090.5" y="782" letter-spacing="-0.08">4 Jan 04:00</text>
<text x="1154.5" y="782" letter-spacing="-0.08">4 Jan 20:00</text>
<text x="1218.5" y="782" letter-spacing="-0.08">5 Jan 12:00</text>
<text x="1282.5" y="782" letter-spacing="-0.08">6 Jan 04:00</text>
<text x="1346.5" y="782" letter-spacing="-0.08">6 Jan 20:00</text>
<text x="1410.5" y="782" letter-spacing="-0.08">7 Jan 12:00</text>
<text x="1875" y="526" fill="#000">0.7344</text>
<text x="1875" y="684" fill="#000">0.00</text>
<text x="1875" y="766" fill="#000">-0.3965</text>
<text x="7" y="14" textLength="65.5" lengthAdjust="spacing">USOUSD.v,H4</text>
<text x="77.6" y="14" textLength="122" lengthAdjust="spacing">50.953 51.117 50.900 51.019</text>
<text x="7" y="528" textLength="66" lengthAdjust="spacing">MACD(12,26,9)</text>
<text x="75.6" y="528" textLength="122" lengthAdjust="spacing">0.6663 0.6415 0.0322 0.0000</text>
</g>
<rect x="1873" y="41" width="36" height="11" fill="#FF0000"/>
<rect x="1873" y="71" width="36" height="11" fill="#FF0000"/>
<rect x="1873" y="132" width="36" height="11" fill="#FF0000"/>
<rect x="1873" y="171" width="36" height="11" fill="#FF0000"/>
<rect x="1873" y="93" width="36" height="11" fill="#000000"/>
<g font-family="Liberation Sans, sans-serif" font-size="9.3px" shape-rendering="auto" text-rendering="geometricPrecision" stroke="#fff" stroke-width="0.2">
<text x="1877" y="50" fill="#FFFFFF">51.720</text>
<text x="1877" y="80" fill="#FFFFFF">51.304</text>
<text x="1877" y="141" fill="#FFFFFF">50.459</text>
<text x="1877" y="180" fill="#FFFFFF">49.918</text>
<text x="1877" y="102" fill="#FFFFFF">51.019</text>
</g>
</svg>
</body></html>
